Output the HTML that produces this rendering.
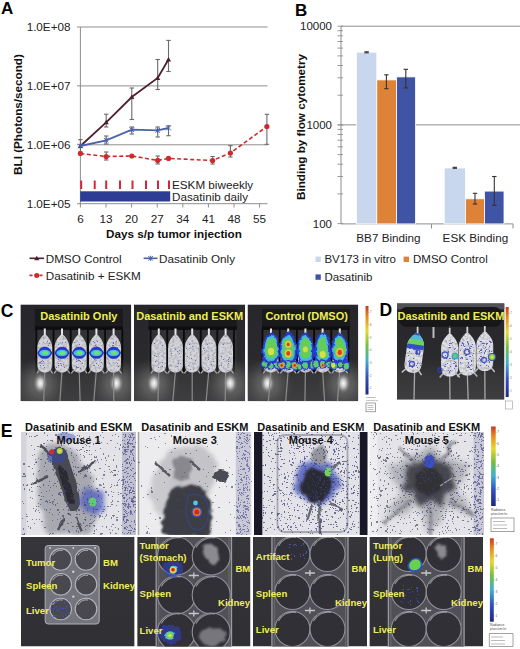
<!DOCTYPE html>
<html><head><meta charset="utf-8"><style>
html,body{margin:0;padding:0;background:#fff;width:520px;height:649px;overflow:hidden}
svg{display:block}
</style></head><body>
<svg width="520" height="649" viewBox="0 0 520 649">
<rect width="520" height="649" fill="#fff"/>
<defs>
<linearGradient id="cbg" x1="0" y1="0" x2="0" y2="1">
 <stop offset="0" stop-color="#26262c"/><stop offset="0.55" stop-color="#2a2a2e"/>
 <stop offset="0.75" stop-color="#363638"/><stop offset="1" stop-color="#3e3e40"/></linearGradient>
<filter id="fur" x="0" y="0" width="1" height="1" color-interpolation-filters="sRGB">
 <feTurbulence type="fractalNoise" baseFrequency="0.4" numOctaves="2" seed="5" result="t"/>
 <feColorMatrix in="t" type="matrix" values="0 0 0 0 0.45  0 0 0 0 0.45  0 0 0 0 0.5  1.3 0 0 0 -0.55" result="dots"/>
 <feComposite in="dots" in2="SourceAlpha" operator="in" result="d2"/>
 <feMerge><feMergeNode in="SourceGraphic"/><feMergeNode in="d2"/></feMerge>
</filter>
<radialGradient id="haze"><stop offset="0" stop-color="#909090" stop-opacity="0.8"/><stop offset="1" stop-color="#606060" stop-opacity="0"/></radialGradient>
<radialGradient id="glare"><stop offset="0" stop-color="#f8f8f8"/><stop offset="0.3" stop-color="#c8c8c8"/><stop offset="0.65" stop-color="#707070" stop-opacity="0.6"/><stop offset="1" stop-color="#3a3a3c" stop-opacity="0"/></radialGradient>
<linearGradient id="cbar" x1="0" y1="0" x2="0" y2="1">
 <stop offset="0" stop-color="#c83820"/><stop offset="0.12" stop-color="#e88a20"/><stop offset="0.28" stop-color="#e8d830"/>
 <stop offset="0.45" stop-color="#70c040"/><stop offset="0.62" stop-color="#40b0d0"/><stop offset="0.8" stop-color="#3050c0"/><stop offset="1" stop-color="#202880"/></linearGradient>
<linearGradient id="ebg" x1="0" y1="0" x2="0" y2="1"><stop offset="0" stop-color="#36363a"/><stop offset="1" stop-color="#303034"/></linearGradient>
<filter id="rough1" x="-30%" y="-30%" width="160%" height="160%"><feTurbulence type="fractalNoise" baseFrequency="0.15" numOctaves="2" seed="8" result="n"/><feDisplacementMap in="SourceGraphic" in2="n" scale="4" xChannelSelector="R" yChannelSelector="G" result="d"/><feGaussianBlur in="d" stdDeviation="0.7"/></filter>
<filter id="rough2" x="-30%" y="-30%" width="160%" height="160%"><feTurbulence type="fractalNoise" baseFrequency="0.12" numOctaves="2" seed="3" result="n"/><feDisplacementMap in="SourceGraphic" in2="n" scale="7" xChannelSelector="R" yChannelSelector="G" result="d"/><feGaussianBlur in="d" stdDeviation="1.2"/></filter>
<filter id="rough3" x="-30%" y="-30%" width="160%" height="160%"><feTurbulence type="fractalNoise" baseFrequency="0.1" numOctaves="2" seed="11" result="n"/><feDisplacementMap in="SourceGraphic" in2="n" scale="10" xChannelSelector="R" yChannelSelector="G" result="d"/><feGaussianBlur in="d" stdDeviation="2"/></filter>
<filter id="rough4" x="-30%" y="-30%" width="160%" height="160%"><feTurbulence type="fractalNoise" baseFrequency="0.08" numOctaves="2" seed="4" result="n"/><feDisplacementMap in="SourceGraphic" in2="n" scale="14" xChannelSelector="R" yChannelSelector="G" result="d"/><feGaussianBlur in="d" stdDeviation="3"/></filter>
<filter id="blur04"><feGaussianBlur stdDeviation="0.35"/></filter>
<filter id="blur05"><feGaussianBlur stdDeviation="0.6"/></filter>
<filter id="blur1"><feGaussianBlur stdDeviation="1"/></filter>
<filter id="blur2"><feGaussianBlur stdDeviation="2"/></filter>
<filter id="blur3"><feGaussianBlur stdDeviation="3"/></filter>
<filter id="blur4"><feGaussianBlur stdDeviation="4"/></filter>
</defs>
<text x="0.8" y="316.5" font-family="Liberation Sans, sans-serif" font-size="17.5" font-weight="bold">C</text>
<clipPath id="cc1"><rect x="20.4" y="304.4" width="110.9" height="96.90000000000003"/></clipPath>
<g clip-path="url(#cc1)">
<rect x="20.4" y="304.4" width="110.9" height="96.90000000000003" fill="url(#cbg)"/>
<rect x="34.9" y="308.9" width="87.9" height="21" fill="#1a1a1c"/>
<rect x="34.9" y="326.4" width="87.9" height="3.5" fill="#0e0e10"/>
<rect x="34.9" y="329.9" width="87.9" height="44" fill="#323236"/>
<rect x="35.4" y="329.4" width="1.8" height="44" fill="#0a0a0a"/>
<rect x="52.6" y="329.4" width="1.8" height="44" fill="#0a0a0a"/>
<rect x="69.8" y="329.4" width="1.8" height="44" fill="#0a0a0a"/>
<rect x="87.0" y="329.4" width="1.8" height="44" fill="#0a0a0a"/>
<rect x="104.2" y="329.4" width="1.8" height="44" fill="#0a0a0a"/>
<rect x="121.4" y="329.4" width="1.8" height="44" fill="#0a0a0a"/>
<ellipse cx="40.4" cy="384.3" rx="26" ry="26" fill="url(#haze)"/>
<ellipse cx="116.30000000000001" cy="384.3" rx="26" ry="26" fill="url(#haze)"/>
<ellipse cx="40.4" cy="383.3" rx="9" ry="13" fill="url(#glare)"/>
<ellipse cx="116.30000000000001" cy="383.3" rx="9" ry="13" fill="url(#glare)"/>
<g>
<path d="M44.8,370.4 L43.7,401.3" stroke="#8c8c8c" stroke-width="1.2"/>
<path d="M44.8,328.4 L44.8,336.4" stroke="#e4e4e4" stroke-width="2"/>
<path d="M62.0,370.4 L59.9,401.3" stroke="#8c8c8c" stroke-width="1.2"/>
<path d="M62.0,328.4 L62.0,336.4" stroke="#e4e4e4" stroke-width="2"/>
<path d="M79.2,370.4 L80.1,401.3" stroke="#8c8c8c" stroke-width="1.2"/>
<path d="M79.2,328.4 L79.2,336.4" stroke="#e4e4e4" stroke-width="2"/>
<path d="M96.4,370.4 L93.8,401.3" stroke="#8c8c8c" stroke-width="1.2"/>
<path d="M96.4,328.4 L96.4,336.4" stroke="#e4e4e4" stroke-width="2"/>
<path d="M113.6,370.4 L113.8,401.3" stroke="#8c8c8c" stroke-width="1.2"/>
<path d="M113.6,328.4 L113.6,336.4" stroke="#e4e4e4" stroke-width="2"/>
</g><g filter="url(#fur)">
<path d="M43.30,334.90 C41.80,336.77 37.40,340.90 37.40,347.27 L37.40,364.15 C37.40,370.52 41.10,372.40 44.80,372.40 C48.50,372.40 52.20,370.52 52.20,364.15 L52.20,347.27 C52.20,340.90 47.80,336.77 46.30,334.90 Z" fill="#d4d4da"/>
<path d="M39.3,370.4 l-2.5,3 M50.3,370.4 l2.5,3" stroke="#b0b0b0" stroke-width="1.3"/>
<path d="M60.50,334.90 C59.00,336.77 54.60,340.90 54.60,347.27 L54.60,364.15 C54.60,370.52 58.30,372.40 62.00,372.40 C65.70,372.40 69.40,370.52 69.40,364.15 L69.40,347.27 C69.40,340.90 65.00,336.77 63.50,334.90 Z" fill="#d4d4da"/>
<path d="M56.5,370.4 l-2.5,3 M67.5,370.4 l2.5,3" stroke="#b0b0b0" stroke-width="1.3"/>
<path d="M77.70,334.90 C76.20,336.77 71.80,340.90 71.80,347.27 L71.80,364.15 C71.80,370.52 75.50,372.40 79.20,372.40 C82.90,372.40 86.60,370.52 86.60,364.15 L86.60,347.27 C86.60,340.90 82.20,336.77 80.70,334.90 Z" fill="#d4d4da"/>
<path d="M73.7,370.4 l-2.5,3 M84.7,370.4 l2.5,3" stroke="#b0b0b0" stroke-width="1.3"/>
<path d="M94.90,334.90 C93.40,336.77 89.00,340.90 89.00,347.27 L89.00,364.15 C89.00,370.52 92.70,372.40 96.40,372.40 C100.10,372.40 103.80,370.52 103.80,364.15 L103.80,347.27 C103.80,340.90 99.40,336.77 97.90,334.90 Z" fill="#d4d4da"/>
<path d="M90.9,370.4 l-2.5,3 M101.9,370.4 l2.5,3" stroke="#b0b0b0" stroke-width="1.3"/>
<path d="M112.10,334.90 C110.60,336.77 106.20,340.90 106.20,347.27 L106.20,364.15 C106.20,370.52 109.90,372.40 113.60,372.40 C117.30,372.40 121.00,370.52 121.00,364.15 L121.00,347.27 C121.00,340.90 116.60,336.77 115.10,334.90 Z" fill="#d4d4da"/>
<path d="M108.1,370.4 l-2.5,3 M119.1,370.4 l2.5,3" stroke="#b0b0b0" stroke-width="1.3"/>
</g>
<path d="M49,343h1v1h-1zM44,367h1v1h-1zM40,362h1v1h-1zM46,352h1v1h-1zM42,360h1v1h-1zM47,341h1v1h-1zM46,354h1v1h-1zM43,361h1v1h-1zM43,365h1v1h-1zM45,349h1v1h-1zM40,365h1v1h-1zM48,354h1v1h-1zM48,345h1v1h-1zM41,361h1v1h-1zM47,341h1v1h-1zM39,362h1v1h-1z" fill="#5050b0" opacity="0.75"/>
<path d="M37.199999999999996,352.9 Q40.8,345.9 44.8,346.9 Q48.8,345.9 52.4,352.9 Q48.8,359.9 44.8,358.4 Q40.8,359.9 37.199999999999996,352.9 Z" fill="#2838c0"/>
<ellipse cx="44.8" cy="352.9" rx="5.6" ry="3.2" fill="#40c0e8"/>
<ellipse cx="45.3" cy="352.9" rx="3" ry="1.9" fill="#70e070"/>
<path d="M58,344h1v1h-1zM65,347h1v1h-1zM58,363h1v1h-1zM62,342h1v1h-1zM64,351h1v1h-1zM64,367h1v1h-1zM58,359h1v1h-1zM56,367h1v1h-1zM65,342h1v1h-1zM63,349h1v1h-1zM57,351h1v1h-1zM63,364h1v1h-1zM58,365h1v1h-1zM60,363h1v1h-1zM59,353h1v1h-1zM61,365h1v1h-1z" fill="#5050b0" opacity="0.75"/>
<path d="M54.4,352.9 Q58,345.9 62,346.9 Q66,345.9 69.6,352.9 Q66,359.9 62,358.4 Q58,359.9 54.4,352.9 Z" fill="#2838c0"/>
<ellipse cx="62.0" cy="352.9" rx="5.6" ry="3.2" fill="#40c0e8"/>
<ellipse cx="62.5" cy="352.9" rx="3" ry="1.9" fill="#70e070"/>
<path d="M76,359h1v1h-1zM80,368h1v1h-1zM75,351h1v1h-1zM79,360h1v1h-1zM82,363h1v1h-1zM79,344h1v1h-1zM76,361h1v1h-1zM76,366h1v1h-1zM77,367h1v1h-1zM76,367h1v1h-1zM78,360h1v1h-1zM78,367h1v1h-1zM73,369h1v1h-1zM80,361h1v1h-1zM78,360h1v1h-1zM74,342h1v1h-1z" fill="#5050b0" opacity="0.75"/>
<path d="M71.60000000000001,352.9 Q75.2,345.9 79.2,346.9 Q83.2,345.9 86.8,352.9 Q83.2,359.9 79.2,358.4 Q75.2,359.9 71.60000000000001,352.9 Z" fill="#2838c0"/>
<ellipse cx="79.2" cy="352.9" rx="5.6" ry="3.2" fill="#40c0e8"/>
<ellipse cx="79.7" cy="352.9" rx="3" ry="1.9" fill="#70e070"/>
<path d="M93,365h1v1h-1zM101,353h1v1h-1zM96,363h1v1h-1zM93,341h1v1h-1zM101,362h1v1h-1zM98,365h1v1h-1zM91,356h1v1h-1zM97,355h1v1h-1zM97,341h1v1h-1zM94,342h1v1h-1zM93,350h1v1h-1zM94,359h1v1h-1zM94,365h1v1h-1zM96,346h1v1h-1zM95,345h1v1h-1zM100,366h1v1h-1z" fill="#5050b0" opacity="0.75"/>
<path d="M88.80000000000001,352.9 Q92.4,345.9 96.4,346.9 Q100.4,345.9 104.0,352.9 Q100.4,359.9 96.4,358.4 Q92.4,359.9 88.80000000000001,352.9 Z" fill="#2838c0"/>
<ellipse cx="96.4" cy="352.9" rx="5.6" ry="3.2" fill="#40c0e8"/>
<ellipse cx="96.9" cy="352.9" rx="3" ry="1.9" fill="#70e070"/>
<path d="M112,345h1v1h-1zM113,347h1v1h-1zM113,358h1v1h-1zM113,345h1v1h-1zM109,363h1v1h-1zM117,363h1v1h-1zM113,356h1v1h-1zM117,353h1v1h-1zM114,354h1v1h-1zM113,343h1v1h-1zM116,341h1v1h-1zM118,366h1v1h-1zM117,347h1v1h-1zM113,342h1v1h-1zM112,349h1v1h-1zM111,355h1v1h-1z" fill="#5050b0" opacity="0.75"/>
<path d="M106.0,352.9 Q109.6,345.9 113.6,346.9 Q117.6,345.9 121.19999999999999,352.9 Q117.6,359.9 113.6,358.4 Q109.6,359.9 106.0,352.9 Z" fill="#2838c0"/>
<ellipse cx="113.6" cy="352.9" rx="5.6" ry="3.2" fill="#40c0e8"/>
<ellipse cx="114.1" cy="352.9" rx="3" ry="1.9" fill="#70e070"/>
<text x="40.3" y="320.4" font-family="Liberation Sans, sans-serif" font-size="11" font-weight="bold" fill="#eeee58" text-anchor="start">Dasatinib Only</text>
</g>
<clipPath id="cc2"><rect x="134" y="304.4" width="111.19999999999999" height="96.90000000000003"/></clipPath>
<g clip-path="url(#cc2)">
<rect x="134" y="304.4" width="111.19999999999999" height="96.90000000000003" fill="url(#cbg)"/>
<rect x="148.5" y="308.9" width="88.19999999999999" height="21" fill="#1a1a1c"/>
<rect x="148.5" y="326.4" width="88.19999999999999" height="3.5" fill="#0e0e10"/>
<rect x="148.5" y="329.9" width="88.19999999999999" height="44" fill="#323236"/>
<rect x="149.7" y="329.4" width="1.8" height="44" fill="#0a0a0a"/>
<rect x="166.3" y="329.4" width="1.8" height="44" fill="#0a0a0a"/>
<rect x="183.0" y="329.4" width="1.8" height="44" fill="#0a0a0a"/>
<rect x="199.8" y="329.4" width="1.8" height="44" fill="#0a0a0a"/>
<rect x="216.4" y="329.4" width="1.8" height="44" fill="#0a0a0a"/>
<rect x="233.1" y="329.4" width="1.8" height="44" fill="#0a0a0a"/>
<ellipse cx="154" cy="384.3" rx="26" ry="26" fill="url(#haze)"/>
<ellipse cx="230.2" cy="384.3" rx="26" ry="26" fill="url(#haze)"/>
<ellipse cx="154" cy="383.3" rx="9" ry="13" fill="url(#glare)"/>
<ellipse cx="230.2" cy="383.3" rx="9" ry="13" fill="url(#glare)"/>
<g>
<path d="M158.8,370.4 L158.0,401.3" stroke="#8c8c8c" stroke-width="1.2"/>
<path d="M158.8,328.4 L158.8,336.4" stroke="#e4e4e4" stroke-width="2"/>
<path d="M175.5,370.4 L172.8,401.3" stroke="#8c8c8c" stroke-width="1.2"/>
<path d="M175.5,328.4 L175.5,336.4" stroke="#e4e4e4" stroke-width="2"/>
<path d="M192.2,370.4 L192.2,401.3" stroke="#8c8c8c" stroke-width="1.2"/>
<path d="M192.2,328.4 L192.2,336.4" stroke="#e4e4e4" stroke-width="2"/>
<path d="M208.9,370.4 L206.1,401.3" stroke="#8c8c8c" stroke-width="1.2"/>
<path d="M208.9,328.4 L208.9,336.4" stroke="#e4e4e4" stroke-width="2"/>
<path d="M225.6,370.4 L225.2,401.3" stroke="#8c8c8c" stroke-width="1.2"/>
<path d="M225.6,328.4 L225.6,336.4" stroke="#e4e4e4" stroke-width="2"/>
</g><g filter="url(#fur)">
<path d="M157.30,334.90 C155.80,336.77 151.40,340.90 151.40,347.27 L151.40,364.15 C151.40,370.52 155.10,372.40 158.80,372.40 C162.50,372.40 166.20,370.52 166.20,364.15 L166.20,347.27 C166.20,340.90 161.80,336.77 160.30,334.90 Z" fill="#d4d4da"/>
<path d="M153.3,370.4 l-2.5,3 M164.3,370.4 l2.5,3" stroke="#b0b0b0" stroke-width="1.3"/>
<path d="M174.00,334.90 C172.50,336.77 168.10,340.90 168.10,347.27 L168.10,364.15 C168.10,370.52 171.80,372.40 175.50,372.40 C179.20,372.40 182.90,370.52 182.90,364.15 L182.90,347.27 C182.90,340.90 178.50,336.77 177.00,334.90 Z" fill="#d4d4da"/>
<path d="M170.0,370.4 l-2.5,3 M181.0,370.4 l2.5,3" stroke="#b0b0b0" stroke-width="1.3"/>
<path d="M190.70,334.90 C189.20,336.77 184.80,340.90 184.80,347.27 L184.80,364.15 C184.80,370.52 188.50,372.40 192.20,372.40 C195.90,372.40 199.60,370.52 199.60,364.15 L199.60,347.27 C199.60,340.90 195.20,336.77 193.70,334.90 Z" fill="#d4d4da"/>
<path d="M186.7,370.4 l-2.5,3 M197.7,370.4 l2.5,3" stroke="#b0b0b0" stroke-width="1.3"/>
<path d="M207.40,334.90 C205.90,336.77 201.50,340.90 201.50,347.27 L201.50,364.15 C201.50,370.52 205.20,372.40 208.90,372.40 C212.60,372.40 216.30,370.52 216.30,364.15 L216.30,347.27 C216.30,340.90 211.90,336.77 210.40,334.90 Z" fill="#d4d4da"/>
<path d="M203.4,370.4 l-2.5,3 M214.4,370.4 l2.5,3" stroke="#b0b0b0" stroke-width="1.3"/>
<path d="M224.10,334.90 C222.60,336.77 218.20,340.90 218.20,347.27 L218.20,364.15 C218.20,370.52 221.90,372.40 225.60,372.40 C229.30,372.40 233.00,370.52 233.00,364.15 L233.00,347.27 C233.00,340.90 228.60,336.77 227.10,334.90 Z" fill="#d4d4da"/>
<path d="M220.1,370.4 l-2.5,3 M231.1,370.4 l2.5,3" stroke="#b0b0b0" stroke-width="1.3"/>
</g>
<path d="M154,355h1v1h-1zM162,366h1v1h-1zM158,367h1v1h-1zM155,361h1v1h-1zM156,356h1v1h-1zM154,343h1v1h-1zM162,345h1v1h-1zM162,362h1v1h-1z" fill="#5050b0" opacity="0.75"/>
<path d="M179,350h1v1h-1zM177,366h1v1h-1zM171,353h1v1h-1zM177,351h1v1h-1zM179,353h1v1h-1zM178,363h1v1h-1zM175,349h1v1h-1zM180,363h1v1h-1z" fill="#5050b0" opacity="0.75"/>
<path d="M195,360h1v1h-1zM189,344h1v1h-1zM188,365h1v1h-1zM191,358h1v1h-1zM190,369h1v1h-1zM192,346h1v1h-1zM186,348h1v1h-1zM187,356h1v1h-1z" fill="#5050b0" opacity="0.75"/>
<path d="M208,357h1v1h-1zM207,344h1v1h-1zM204,350h1v1h-1zM211,364h1v1h-1zM203,348h1v1h-1zM213,361h1v1h-1zM208,359h1v1h-1zM208,369h1v1h-1z" fill="#5050b0" opacity="0.75"/>
<path d="M221,356h1v1h-1zM228,363h1v1h-1zM228,361h1v1h-1zM228,359h1v1h-1zM223,344h1v1h-1zM221,365h1v1h-1zM223,359h1v1h-1zM229,357h1v1h-1z" fill="#5050b0" opacity="0.75"/>
<text x="136.2" y="320.4" font-family="Liberation Sans, sans-serif" font-size="11" font-weight="bold" fill="#eeee58" text-anchor="start">Dasatinib and ESKM</text>
</g>
<clipPath id="cc3"><rect x="247.5" y="304.4" width="110.80000000000001" height="96.90000000000003"/></clipPath>
<g clip-path="url(#cc3)">
<rect x="247.5" y="304.4" width="110.80000000000001" height="96.90000000000003" fill="url(#cbg)"/>
<rect x="262.0" y="308.9" width="87.80000000000001" height="21" fill="#1a1a1c"/>
<rect x="262.0" y="326.4" width="87.80000000000001" height="3.5" fill="#0e0e10"/>
<rect x="262.0" y="329.9" width="87.80000000000001" height="44" fill="#323236"/>
<rect x="261.6" y="329.4" width="1.8" height="44" fill="#0a0a0a"/>
<rect x="278.8" y="329.4" width="1.8" height="44" fill="#0a0a0a"/>
<rect x="296.0" y="329.4" width="1.8" height="44" fill="#0a0a0a"/>
<rect x="313.2" y="329.4" width="1.8" height="44" fill="#0a0a0a"/>
<rect x="330.4" y="329.4" width="1.8" height="44" fill="#0a0a0a"/>
<rect x="347.6" y="329.4" width="1.8" height="44" fill="#0a0a0a"/>
<ellipse cx="267.5" cy="384.3" rx="26" ry="26" fill="url(#haze)"/>
<ellipse cx="343.3" cy="384.3" rx="26" ry="26" fill="url(#haze)"/>
<ellipse cx="267.5" cy="383.3" rx="9" ry="13" fill="url(#glare)"/>
<ellipse cx="343.3" cy="383.3" rx="9" ry="13" fill="url(#glare)"/>
<g>
<path d="M271.0,370.4 L268.4,401.3" stroke="#8c8c8c" stroke-width="1.2"/>
<path d="M271.0,328.4 L271.0,336.4" stroke="#e4e4e4" stroke-width="2"/>
<path d="M288.2,370.4 L285.7,401.3" stroke="#8c8c8c" stroke-width="1.2"/>
<path d="M288.2,328.4 L288.2,336.4" stroke="#e4e4e4" stroke-width="2"/>
<path d="M305.4,370.4 L304.9,401.3" stroke="#8c8c8c" stroke-width="1.2"/>
<path d="M305.4,328.4 L305.4,336.4" stroke="#e4e4e4" stroke-width="2"/>
<path d="M322.6,370.4 L324.6,401.3" stroke="#8c8c8c" stroke-width="1.2"/>
<path d="M322.6,328.4 L322.6,336.4" stroke="#e4e4e4" stroke-width="2"/>
<path d="M339.8,370.4 L337.5,401.3" stroke="#8c8c8c" stroke-width="1.2"/>
<path d="M339.8,328.4 L339.8,336.4" stroke="#e4e4e4" stroke-width="2"/>
</g><g filter="url(#fur)">
<path d="M269.50,334.90 C268.00,336.77 263.60,340.90 263.60,347.27 L263.60,364.15 C263.60,370.52 267.30,372.40 271.00,372.40 C274.70,372.40 278.40,370.52 278.40,364.15 L278.40,347.27 C278.40,340.90 274.00,336.77 272.50,334.90 Z" fill="#d4d4da"/>
<path d="M265.5,370.4 l-2.5,3 M276.5,370.4 l2.5,3" stroke="#b0b0b0" stroke-width="1.3"/>
<path d="M286.70,334.90 C285.20,336.77 280.80,340.90 280.80,347.27 L280.80,364.15 C280.80,370.52 284.50,372.40 288.20,372.40 C291.90,372.40 295.60,370.52 295.60,364.15 L295.60,347.27 C295.60,340.90 291.20,336.77 289.70,334.90 Z" fill="#d4d4da"/>
<path d="M282.7,370.4 l-2.5,3 M293.7,370.4 l2.5,3" stroke="#b0b0b0" stroke-width="1.3"/>
<path d="M303.90,334.90 C302.40,336.77 298.00,340.90 298.00,347.27 L298.00,364.15 C298.00,370.52 301.70,372.40 305.40,372.40 C309.10,372.40 312.80,370.52 312.80,364.15 L312.80,347.27 C312.80,340.90 308.40,336.77 306.90,334.90 Z" fill="#d4d4da"/>
<path d="M299.9,370.4 l-2.5,3 M310.9,370.4 l2.5,3" stroke="#b0b0b0" stroke-width="1.3"/>
<path d="M321.10,334.90 C319.60,336.77 315.20,340.90 315.20,347.27 L315.20,364.15 C315.20,370.52 318.90,372.40 322.60,372.40 C326.30,372.40 330.00,370.52 330.00,364.15 L330.00,347.27 C330.00,340.90 325.60,336.77 324.10,334.90 Z" fill="#d4d4da"/>
<path d="M317.1,370.4 l-2.5,3 M328.1,370.4 l2.5,3" stroke="#b0b0b0" stroke-width="1.3"/>
<path d="M338.30,334.90 C336.80,336.77 332.40,340.90 332.40,347.27 L332.40,364.15 C332.40,370.52 336.10,372.40 339.80,372.40 C343.50,372.40 347.20,370.52 347.20,364.15 L347.20,347.27 C347.20,340.90 342.80,336.77 341.30,334.90 Z" fill="#d4d4da"/>
<path d="M334.3,370.4 l-2.5,3 M345.3,370.4 l2.5,3" stroke="#b0b0b0" stroke-width="1.3"/>
</g>
<g filter="url(#rough1)">
<path d="M271.00,332.40 C267.06,332.40 264.88,337.98 263.30,343.25 C262.07,347.90 262.07,354.10 263.12,358.44 C264.44,363.40 268.38,363.40 271.00,363.40 C273.62,363.40 277.56,363.40 278.88,358.44 C279.93,354.10 279.93,347.90 278.70,343.25 C277.12,337.98 274.94,332.40 271.00,332.40 Z" fill="#2a3ac8"/>
<path d="M271.00,334.90 C267.96,334.90 266.27,339.58 265.06,344.00 C264.12,347.90 264.12,353.10 264.93,356.74 C265.94,360.90 268.98,360.90 271.00,360.90 C273.02,360.90 276.06,360.90 277.07,356.74 C277.88,353.10 277.88,347.90 276.94,344.00 C275.73,339.58 274.04,334.90 271.00,334.90 Z" fill="#40b8e0"/>
<path d="M271.00,337.40 C268.64,337.40 267.32,341.18 266.38,344.75 C265.64,347.90 265.64,352.10 266.27,355.04 C267.06,358.40 269.43,358.40 271.00,358.40 C272.57,358.40 274.94,358.40 275.73,355.04 C276.36,352.10 276.36,347.90 275.62,344.75 C274.68,341.18 273.36,337.40 271.00,337.40 Z" fill="#66cc58"/>
<ellipse cx="264.5" cy="364.4" rx="3.9" ry="4.6" fill="#2a3ac8"/>
<ellipse cx="264.5" cy="364.4" rx="2.6" ry="3.2" fill="#5cc870"/>
<ellipse cx="271.0" cy="366.0" rx="3.9" ry="4.6" fill="#2a3ac8"/>
<ellipse cx="271.0" cy="366.0" rx="2.6" ry="3.2" fill="#5cc870"/>
<ellipse cx="277.5" cy="365.8" rx="3.9" ry="4.6" fill="#2a3ac8"/>
<ellipse cx="277.5" cy="365.8" rx="2.6" ry="3.2" fill="#5cc870"/>
<path d="M288.20,332.40 C284.26,332.40 282.07,337.98 280.50,343.25 C279.27,347.90 279.27,354.10 280.32,358.44 C281.64,363.40 285.57,363.40 288.20,363.40 C290.82,363.40 294.76,363.40 296.07,358.44 C297.12,354.10 297.12,347.90 295.90,343.25 C294.32,337.98 292.14,332.40 288.20,332.40 Z" fill="#2a3ac8"/>
<path d="M288.20,334.90 C285.16,334.90 283.47,339.58 282.26,344.00 C281.31,347.90 281.31,353.10 282.12,356.74 C283.14,360.90 286.18,360.90 288.20,360.90 C290.22,360.90 293.26,360.90 294.27,356.74 C295.08,353.10 295.08,347.90 294.14,344.00 C292.93,339.58 291.24,334.90 288.20,334.90 Z" fill="#40b8e0"/>
<path d="M288.20,337.40 C285.84,337.40 284.52,341.18 283.58,344.75 C282.84,347.90 282.84,352.10 283.47,355.04 C284.26,358.40 286.62,358.40 288.20,358.40 C289.77,358.40 292.14,358.40 292.93,355.04 C293.56,352.10 293.56,347.90 292.82,344.75 C291.88,341.18 290.56,337.40 288.20,337.40 Z" fill="#66cc58"/>
<ellipse cx="281.7" cy="365.3" rx="3.9" ry="4.6" fill="#2a3ac8"/>
<ellipse cx="281.7" cy="365.3" rx="2.6" ry="3.2" fill="#5cc870"/>
<ellipse cx="288.2" cy="364.5" rx="3.9" ry="4.6" fill="#2a3ac8"/>
<ellipse cx="288.2" cy="364.5" rx="2.6" ry="3.2" fill="#5cc870"/>
<ellipse cx="294.7" cy="366.3" rx="3.9" ry="4.6" fill="#2a3ac8"/>
<ellipse cx="294.7" cy="366.3" rx="2.6" ry="3.2" fill="#5cc870"/>
<path d="M305.40,332.40 C301.46,332.40 299.27,337.98 297.70,343.25 C296.47,347.90 296.47,354.10 297.52,358.44 C298.84,363.40 302.77,363.40 305.40,363.40 C308.02,363.40 311.96,363.40 313.27,358.44 C314.32,354.10 314.32,347.90 313.10,343.25 C311.52,337.98 309.34,332.40 305.40,332.40 Z" fill="#2a3ac8"/>
<path d="M305.40,334.90 C302.36,334.90 300.67,339.58 299.46,344.00 C298.51,347.90 298.51,353.10 299.32,356.74 C300.34,360.90 303.38,360.90 305.40,360.90 C307.42,360.90 310.46,360.90 311.47,356.74 C312.28,353.10 312.28,347.90 311.34,344.00 C310.12,339.58 308.44,334.90 305.40,334.90 Z" fill="#40b8e0"/>
<path d="M305.40,337.40 C303.04,337.40 301.72,341.18 300.78,344.75 C300.04,347.90 300.04,352.10 300.67,355.04 C301.46,358.40 303.82,358.40 305.40,358.40 C306.97,358.40 309.34,358.40 310.12,355.04 C310.75,352.10 310.75,347.90 310.02,344.75 C309.07,341.18 307.76,337.40 305.40,337.40 Z" fill="#66cc58"/>
<ellipse cx="298.9" cy="366.3" rx="3.9" ry="4.6" fill="#2a3ac8"/>
<ellipse cx="298.9" cy="366.3" rx="2.6" ry="3.2" fill="#5cc870"/>
<ellipse cx="305.4" cy="365.4" rx="3.9" ry="4.6" fill="#2a3ac8"/>
<ellipse cx="305.4" cy="365.4" rx="2.6" ry="3.2" fill="#5cc870"/>
<ellipse cx="311.9" cy="365.4" rx="3.9" ry="4.6" fill="#2a3ac8"/>
<ellipse cx="311.9" cy="365.4" rx="2.6" ry="3.2" fill="#5cc870"/>
<path d="M322.60,332.40 C318.66,332.40 316.48,337.98 314.90,343.25 C313.68,347.90 313.68,354.10 314.73,358.44 C316.04,363.40 319.98,363.40 322.60,363.40 C325.23,363.40 329.16,363.40 330.48,358.44 C331.53,354.10 331.53,347.90 330.30,343.25 C328.73,337.98 326.54,332.40 322.60,332.40 Z" fill="#2a3ac8"/>
<path d="M322.60,334.90 C319.56,334.90 317.88,339.58 316.66,344.00 C315.72,347.90 315.72,353.10 316.53,356.74 C317.54,360.90 320.58,360.90 322.60,360.90 C324.62,360.90 327.66,360.90 328.68,356.74 C329.49,353.10 329.49,347.90 328.54,344.00 C327.33,339.58 325.64,334.90 322.60,334.90 Z" fill="#40b8e0"/>
<path d="M322.60,337.40 C320.24,337.40 318.93,341.18 317.98,344.75 C317.25,347.90 317.25,352.10 317.88,355.04 C318.66,358.40 321.03,358.40 322.60,358.40 C324.18,358.40 326.54,358.40 327.33,355.04 C327.96,352.10 327.96,347.90 327.22,344.75 C326.28,341.18 324.96,337.40 322.60,337.40 Z" fill="#66cc58"/>
<ellipse cx="316.1" cy="364.6" rx="3.9" ry="4.6" fill="#2a3ac8"/>
<ellipse cx="316.1" cy="364.6" rx="2.6" ry="3.2" fill="#5cc870"/>
<ellipse cx="322.6" cy="363.9" rx="3.9" ry="4.6" fill="#2a3ac8"/>
<ellipse cx="322.6" cy="363.9" rx="2.6" ry="3.2" fill="#5cc870"/>
<ellipse cx="329.1" cy="365.0" rx="3.9" ry="4.6" fill="#2a3ac8"/>
<ellipse cx="329.1" cy="365.0" rx="2.6" ry="3.2" fill="#5cc870"/>
<path d="M339.80,332.40 C335.86,332.40 333.68,337.98 332.10,343.25 C330.88,347.90 330.88,354.10 331.93,358.44 C333.24,363.40 337.18,363.40 339.80,363.40 C342.43,363.40 346.36,363.40 347.68,358.44 C348.73,354.10 348.73,347.90 347.50,343.25 C345.93,337.98 343.74,332.40 339.80,332.40 Z" fill="#2a3ac8"/>
<path d="M339.80,334.90 C336.76,334.90 335.07,339.58 333.86,344.00 C332.92,347.90 332.92,353.10 333.73,356.74 C334.74,360.90 337.78,360.90 339.80,360.90 C341.82,360.90 344.86,360.90 345.88,356.74 C346.69,353.10 346.69,347.90 345.74,344.00 C344.53,339.58 342.84,334.90 339.80,334.90 Z" fill="#40b8e0"/>
<path d="M339.80,337.40 C337.44,337.40 336.12,341.18 335.18,344.75 C334.44,347.90 334.44,352.10 335.07,355.04 C335.86,358.40 338.23,358.40 339.80,358.40 C341.38,358.40 343.74,358.40 344.53,355.04 C345.16,352.10 345.16,347.90 344.42,344.75 C343.48,341.18 342.16,337.40 339.80,337.40 Z" fill="#66cc58"/>
<ellipse cx="333.3" cy="365.7" rx="3.9" ry="4.6" fill="#2a3ac8"/>
<ellipse cx="333.3" cy="365.7" rx="2.6" ry="3.2" fill="#5cc870"/>
<ellipse cx="339.8" cy="364.1" rx="3.9" ry="4.6" fill="#2a3ac8"/>
<ellipse cx="339.8" cy="364.1" rx="2.6" ry="3.2" fill="#5cc870"/>
<ellipse cx="346.3" cy="366.3" rx="3.9" ry="4.6" fill="#2a3ac8"/>
<ellipse cx="346.3" cy="366.3" rx="2.6" ry="3.2" fill="#5cc870"/>
</g>
<g filter="url(#blur05)">
<ellipse cx="271.0" cy="351.4" rx="3.2" ry="3.68" fill="#d8e048"/>
<ellipse cx="288.2" cy="344.4" rx="3" ry="3.45" fill="#e0d040"/>
<ellipse cx="288.2" cy="344.4" rx="1.6" ry="1.84" fill="#e04020"/>
<ellipse cx="288.2" cy="353.4" rx="3.5" ry="4.02" fill="#e0d040"/>
<ellipse cx="288.2" cy="353.4" rx="2" ry="2.30" fill="#e04020"/>
<ellipse cx="281.7" cy="365.4" rx="2.4" ry="2.76" fill="#e0a030"/>
<ellipse cx="281.7" cy="365.4" rx="1.2" ry="1.38" fill="#d03020"/>
<ellipse cx="294.7" cy="365.4" rx="2.4" ry="2.76" fill="#e0a030"/>
<ellipse cx="294.7" cy="365.4" rx="1.2" ry="1.38" fill="#d03020"/>
<ellipse cx="305.4" cy="349.4" rx="2.5" ry="2.88" fill="#c8e048"/>
<ellipse cx="322.6" cy="354.4" rx="3" ry="3.45" fill="#d8e048"/>
<ellipse cx="322.6" cy="365.4" rx="2" ry="2.30" fill="#e0a030"/>
<ellipse cx="322.6" cy="365.4" rx="1" ry="1.15" fill="#d03020"/>
<ellipse cx="339.8" cy="352.4" rx="4" ry="4.60" fill="#e0c040"/>
<ellipse cx="339.8" cy="352.4" rx="2.2" ry="2.53" fill="#e04020"/>
<ellipse cx="333.3" cy="365.4" rx="2" ry="2.30" fill="#d8e048"/>
</g>
<text x="265.4" y="320.4" font-family="Liberation Sans, sans-serif" font-size="11" font-weight="bold" fill="#eeee58" text-anchor="start">Control (DMSO)</text>
</g>
<rect x="365.5" y="306" width="3" height="88.5" fill="url(#cbar)"/>
<text x="370.1" y="313.3" font-family="Liberation Sans, sans-serif" font-size="2.6" fill="#555">7</text>
<line x1="368.4" y1="312.3" x2="369.6" y2="312.3" stroke="#777" stroke-width="0.4"/>
<text x="370.1" y="326.0" font-family="Liberation Sans, sans-serif" font-size="2.6" fill="#555">6</text>
<line x1="368.4" y1="325.0" x2="369.6" y2="325.0" stroke="#777" stroke-width="0.4"/>
<text x="370.1" y="338.6" font-family="Liberation Sans, sans-serif" font-size="2.6" fill="#555">5</text>
<line x1="368.4" y1="337.6" x2="369.6" y2="337.6" stroke="#777" stroke-width="0.4"/>
<text x="370.1" y="351.2" font-family="Liberation Sans, sans-serif" font-size="2.6" fill="#555">4</text>
<line x1="368.4" y1="350.2" x2="369.6" y2="350.2" stroke="#777" stroke-width="0.4"/>
<text x="370.1" y="363.9" font-family="Liberation Sans, sans-serif" font-size="2.6" fill="#555">3</text>
<line x1="368.4" y1="362.9" x2="369.6" y2="362.9" stroke="#777" stroke-width="0.4"/>
<text x="370.1" y="376.5" font-family="Liberation Sans, sans-serif" font-size="2.6" fill="#555">2</text>
<line x1="368.4" y1="375.5" x2="369.6" y2="375.5" stroke="#777" stroke-width="0.4"/>
<text x="370.1" y="389.2" font-family="Liberation Sans, sans-serif" font-size="2.6" fill="#555">1</text>
<line x1="368.4" y1="388.2" x2="369.6" y2="388.2" stroke="#777" stroke-width="0.4"/>
<text x="366" y="398" font-family="Liberation Sans, sans-serif" font-size="2.4" fill="#555">Radiance</text><text x="366" y="401" font-family="Liberation Sans, sans-serif" font-size="2.2" fill="#555">p/sec/cm²/sr</text>
<rect x="366" y="403" width="9.6" height="8.8" fill="#fff" stroke="#666" stroke-width="0.6"/><path d="M367.5,405.5h6M367.5,407.5h6M367.5,409.5h6" stroke="#999" stroke-width="0.6"/>
<text x="379.6" y="316.3" font-family="Liberation Sans, sans-serif" font-size="17.5" font-weight="bold">D</text>
<clipPath id="dd"><rect x="397" y="303.3" width="107.5" height="96.5"/></clipPath><g clip-path="url(#dd)">
<rect x="397" y="303.3" width="107.5" height="96.5" fill="url(#cbg)"/>
<rect x="397" y="303.3" width="107.5" height="6" fill="#505056"/>
<rect x="399" y="307" width="103" height="20" rx="8" fill="#18181a"/>
<path d="M433.5,327 L433.5,338" stroke="#bbb" stroke-width="2"/>
<path d="M414.6,371 L414.0,400" stroke="#a8a8a8" stroke-width="1.3"/>
<path d="M417.6,335 L417.6,327" stroke="#d0d0d0" stroke-width="1.8"/><path d="M417.6,326 L417.6,327" stroke="#707070" stroke-width="1"/>
<path d="M449.7,374.5 L450.0,400" stroke="#a8a8a8" stroke-width="1.3"/>
<path d="M449.7,336 L449.7,328" stroke="#d0d0d0" stroke-width="1.8"/><path d="M449.7,326 L449.7,328" stroke="#707070" stroke-width="1"/>
<path d="M467.3,373.5 L468.2,400" stroke="#a8a8a8" stroke-width="1.3"/>
<path d="M467.3,335 L467.3,327" stroke="#d0d0d0" stroke-width="1.8"/><path d="M467.3,326 L467.3,327" stroke="#707070" stroke-width="1"/>
<path d="M484.8,369 L485.0,400" stroke="#a8a8a8" stroke-width="1.3"/>
<path d="M484.8,334 L484.8,326" stroke="#d0d0d0" stroke-width="1.8"/><path d="M484.8,326 L484.8,326" stroke="#707070" stroke-width="1"/>
<g filter="url(#fur)">
<path transform="rotate(8 414.6 353.0)" d="M413.10,333.00 C411.60,335.00 406.10,339.40 406.10,346.20 L406.10,364.20 C406.10,371.00 410.35,373.00 414.60,373.00 C418.85,373.00 423.10,371.00 423.10,364.20 L423.10,346.20 C423.10,339.40 417.60,335.00 416.10,333.00 Z" fill="#e0e0e6"/>
<path transform="rotate(8 414.6 353.0)" d="M408.1,370 l-3.5,4 M421.1,370 l3.5,4" stroke="#c0c0c0" stroke-width="1.5"/>
<path d="M448.20,334.00 C446.70,336.12 441.10,340.80 441.10,348.02 L441.10,367.15 C441.10,374.38 445.40,376.50 449.70,376.50 C454.00,376.50 458.30,374.38 458.30,367.15 L458.30,348.02 C458.30,340.80 452.70,336.12 451.20,334.00 Z" fill="#e0e0e6"/>
<path d="M443.2,373.5 l-3.5,4 M456.2,373.5 l3.5,4" stroke="#c0c0c0" stroke-width="1.5"/>
<path d="M465.80,333.00 C464.30,335.12 458.70,339.80 458.70,347.02 L458.70,366.15 C458.70,373.38 463.00,375.50 467.30,375.50 C471.60,375.50 475.90,373.38 475.90,366.15 L475.90,347.02 C475.90,339.80 470.30,335.12 468.80,333.00 Z" fill="#e0e0e6"/>
<path d="M460.8,372.5 l-3.5,4 M473.8,372.5 l3.5,4" stroke="#c0c0c0" stroke-width="1.5"/>
<path d="M483.30,332.00 C481.80,333.95 476.40,338.24 476.40,344.87 L476.40,362.42 C476.40,369.05 480.60,371.00 484.80,371.00 C489.00,371.00 493.20,369.05 493.20,362.42 L493.20,344.87 C493.20,338.24 487.80,333.95 486.30,332.00 Z" fill="#e0e0e6"/>
<path d="M478.3,368 l-3.5,4 M491.3,368 l3.5,4" stroke="#c0c0c0" stroke-width="1.5"/>
</g>
<path d="M415,349h2v1h-2zM417,363h1v1h-1zM415,348h1v1h-1zM409,351h1v1h-1zM409,366h1v1h-1zM414,344h1v2h-1zM416,351h2v2h-2zM419,341h1v1h-1zM419,354h1v1h-1zM420,349h2v1h-2zM414,349h1v1h-1zM416,353h1v2h-1zM415,353h1v1h-1zM419,345h1v1h-1zM412,366h1v1h-1zM408,341h1v2h-1zM420,365h1v1h-1zM418,344h1v1h-1zM413,348h1v2h-1zM409,348h1v1h-1zM413,358h1v1h-1zM409,345h1v1h-1zM409,360h1v1h-1zM412,366h1v2h-1zM417,367h1v1h-1zM410,347h1v2h-1zM409,346h1v1h-1zM408,361h1v1h-1zM410,343h1v2h-1zM408,355h1v1h-1zM415,347h1v1h-1zM416,365h1v1h-1zM412,345h1v1h-1zM409,344h1v2h-1z" fill="#3a40b8" opacity="0.75" filter="url(#blur04)"/>
<path d="M446,358h1v1h-1zM454,349h1v1h-1zM456,355h1v2h-1zM452,358h1v1h-1zM452,354h1v1h-1zM452,342h1v1h-1zM450,343h2v1h-2zM448,351h1v2h-1zM445,366h1v1h-1zM449,371h1v2h-1zM454,361h1v1h-1zM443,356h1v1h-1zM454,361h1v1h-1zM444,366h2v1h-2zM450,358h1v1h-1zM454,368h1v1h-1zM449,345h1v1h-1zM448,370h1v1h-1zM455,357h1v1h-1zM454,359h1v1h-1zM447,363h1v1h-1zM450,370h1v1h-1zM449,347h2v1h-2zM455,348h1v1h-1zM455,365h2v2h-2zM445,355h1v1h-1zM450,366h1v1h-1zM453,363h2v1h-2zM449,343h2v1h-2zM445,364h1v1h-1zM455,362h1v1h-1zM449,358h1v1h-1z" fill="#3a40b8" opacity="0.75" filter="url(#blur04)"/>
<path d="M470,356h1v1h-1zM461,345h1v1h-1zM460,358h1v1h-1zM464,346h1v1h-1zM469,356h1v1h-1zM462,342h1v1h-1zM470,369h1v1h-1zM462,357h1v2h-1zM463,344h1v2h-1zM466,359h2v1h-2zM469,347h1v2h-1zM470,356h1v1h-1zM470,365h1v1h-1zM469,348h1v1h-1zM468,343h1v2h-1zM470,348h1v1h-1zM472,355h1v1h-1zM468,367h2v1h-2zM468,362h1v2h-1zM470,346h2v1h-2zM473,353h1v1h-1zM461,357h1v1h-1zM471,360h1v2h-1zM460,350h1v1h-1zM468,366h1v1h-1zM465,348h1v1h-1zM472,344h1v1h-1zM471,369h1v1h-1zM468,351h1v1h-1zM460,362h1v1h-1zM467,367h1v1h-1zM471,364h1v1h-1zM465,355h2v1h-2zM467,341h1v2h-1zM462,343h2v1h-2z" fill="#3a40b8" opacity="0.75" filter="url(#blur04)"/>
<path d="M486,365h1v1h-1zM488,366h1v1h-1zM488,360h1v1h-1zM480,365h1v1h-1zM478,346h1v1h-1zM480,350h2v1h-2zM485,351h1v1h-1zM482,343h2v1h-2zM484,352h1v2h-1zM489,361h1v2h-1zM489,346h1v1h-1zM480,341h2v1h-2zM489,341h1v1h-1zM485,347h1v1h-1zM484,363h1v1h-1zM483,345h1v1h-1zM485,350h1v1h-1zM486,343h2v1h-2zM479,351h1v1h-1zM491,351h1v1h-1zM481,349h1v1h-1zM484,352h1v1h-1zM486,344h1v1h-1zM484,343h1v1h-1zM490,342h2v1h-2zM489,350h1v2h-1zM489,356h1v2h-1zM480,356h2v1h-2zM479,358h1v1h-1zM489,341h2v1h-2zM480,359h1v2h-1zM490,357h1v1h-1zM481,352h1v1h-1zM486,349h1v1h-1z" fill="#3a40b8" opacity="0.75" filter="url(#blur04)"/>
<g fill="none" stroke="#3040c0" stroke-width="1.3" opacity="0.85"><circle cx="445" cy="355" r="3"/><circle cx="467" cy="352" r="2.6"/><circle cx="484" cy="360" r="2.5"/><circle cx="440" cy="370" r="2"/><circle cx="412" cy="364" r="2.5"/><circle cx="418" cy="352" r="2"/></g>
<clipPath id="dm1"><path transform="rotate(8 414.6 353.0)" d="M413.10,333.00 C411.60,335.00 406.10,339.40 406.10,346.20 L406.10,364.20 C406.10,371.00 410.35,373.00 414.60,373.00 C418.85,373.00 423.10,371.00 423.10,364.20 L423.10,346.20 C423.10,339.40 417.60,335.00 416.10,333.00 Z"/></clipPath>
<g clip-path="url(#dm1)" filter="url(#blur05)"><g transform="rotate(8 414.6 353.0)"><rect x="404.6" y="331" width="20" height="18" fill="#3050c8"/><rect x="404.6" y="335" width="20" height="6" fill="#50b8e0"/><rect x="404.6" y="339.5" width="20" height="5" fill="#70d060"/></g></g>
<circle cx="492" cy="357" r="4" fill="#3050c0"/><circle cx="492" cy="357" r="3" fill="#90d040"/><circle cx="492" cy="357" r="1.4" fill="#e8e050"/>
<circle cx="455" cy="356" r="3.5" fill="#40a8d0"/><circle cx="455" cy="356" r="2" fill="#70c860"/>
<text x="397.5" y="320" font-family="Liberation Sans, sans-serif" font-size="11" font-weight="bold" fill="#eeee58" text-anchor="start">Dasatinib and ESKM</text>
</g>
<rect x="505.7" y="307" width="3" height="90" fill="url(#cbar)"/>
<text x="510.3" y="314.4" font-family="Liberation Sans, sans-serif" font-size="2.6" fill="#555">7</text>
<line x1="508.6" y1="313.4" x2="509.8" y2="313.4" stroke="#777" stroke-width="0.4"/>
<text x="510.3" y="327.3" font-family="Liberation Sans, sans-serif" font-size="2.6" fill="#555">6</text>
<line x1="508.6" y1="326.3" x2="509.8" y2="326.3" stroke="#777" stroke-width="0.4"/>
<text x="510.3" y="340.1" font-family="Liberation Sans, sans-serif" font-size="2.6" fill="#555">5</text>
<line x1="508.6" y1="339.1" x2="509.8" y2="339.1" stroke="#777" stroke-width="0.4"/>
<text x="510.3" y="353.0" font-family="Liberation Sans, sans-serif" font-size="2.6" fill="#555">4</text>
<line x1="508.6" y1="352.0" x2="509.8" y2="352.0" stroke="#777" stroke-width="0.4"/>
<text x="510.3" y="365.9" font-family="Liberation Sans, sans-serif" font-size="2.6" fill="#555">3</text>
<line x1="508.6" y1="364.9" x2="509.8" y2="364.9" stroke="#777" stroke-width="0.4"/>
<text x="510.3" y="378.7" font-family="Liberation Sans, sans-serif" font-size="2.6" fill="#555">2</text>
<line x1="508.6" y1="377.7" x2="509.8" y2="377.7" stroke="#777" stroke-width="0.4"/>
<text x="510.3" y="391.6" font-family="Liberation Sans, sans-serif" font-size="2.6" fill="#555">1</text>
<line x1="508.6" y1="390.6" x2="509.8" y2="390.6" stroke="#777" stroke-width="0.4"/>
<rect x="505.5" y="401" width="7" height="8" fill="#fff" stroke="#888" stroke-width="0.5"/>
<text x="0.8" y="436.6" font-family="Liberation Sans, sans-serif" font-size="17.5" font-weight="bold">E</text>
<clipPath id="et0"><rect x="21" y="432" width="115.19999999999999" height="103"/></clipPath>
<g clip-path="url(#et0)">
<rect x="21" y="432" width="115.19999999999999" height="103" fill="#e4e4e8"/>
</g>
<clipPath id="et1"><rect x="137.4" y="432" width="114.9" height="103"/></clipPath>
<g clip-path="url(#et1)">
<rect x="137.4" y="432" width="114.9" height="103" fill="#e4e4e8"/>
</g>
<clipPath id="et2"><rect x="254" y="432" width="113.69999999999999" height="103"/></clipPath>
<g clip-path="url(#et2)">
<rect x="254" y="432" width="113.69999999999999" height="103" fill="#e4e4e8"/>
</g>
<clipPath id="et3"><rect x="369.5" y="432" width="114.5" height="103"/></clipPath>
<g clip-path="url(#et3)">
<rect x="369.5" y="432" width="114.5" height="103" fill="#e4e4e8"/>
</g>
<g clip-path="url(#et0)">
<rect x="21" y="432" width="5.5" height="103" fill="#d4d4dc"/><rect x="122" y="432" width="14.2" height="103" fill="#c0c0d0"/>
<path d="M44,446 C52,438 66,440 72,450 C80,460 94,472 98,492 C100,508 96,522 90,535 L48,535 C42,520 38,500 37,482 C35,466 38,452 44,446 Z" fill="#a8a8b0" filter="url(#rough3)"/>
<path d="M52,450 C58,444 66,446 68,456 C70,466 76,478 79,494 C81,504 79,510 75,511 C69,511 66,504 63,494 C59,480 54,470 52,462 Z" fill="#4a4a50" filter="url(#rough1)"/>
<path d="M58,466 C62,464 66,468 68,476 C71,486 74,496 74,502 C72,506 68,504 66,496 C63,486 59,476 58,466 Z" fill="#2c2c32" filter="url(#rough1)"/>
<path d="M40,446 L53,456 M32,484 L49,476 M95,462 L78,472 M58,530 L64,518 M82,532 L76,518" stroke="#505058" stroke-width="2.4" filter="url(#rough1)"/>
<ellipse cx="92.6" cy="501.5" rx="13" ry="13" fill="#4c5cc0" opacity="0.7" filter="url(#rough3)"/>
<ellipse cx="92.6" cy="502" rx="4" ry="4.5" fill="#60c878" filter="url(#blur05)"/>
<ellipse cx="57" cy="456" rx="9" ry="8" fill="#3848a8" opacity="0.6" filter="url(#rough1)"/><circle cx="51.8" cy="452" r="2.4" fill="#e02828"/><circle cx="59.7" cy="451" r="3" fill="#a8d040"/><circle cx="59.7" cy="451" r="1.5" fill="#e8d848"/>
<ellipse cx="66" cy="437" rx="9" ry="5" fill="#5060c0" opacity="0.5" filter="url(#rough1)"/>
</g>
<g clip-path="url(#et0)"><path d="M36,519h1v1h-1zM35,510h1v2h-1zM65,454h1v1h-1zM124,472h1v1h-1zM101,459h1v1h-1zM130,525h1v1h-1zM24,488h1v2h-1zM46,475h1v1h-1zM47,477h1v1h-1zM48,456h1v1h-1zM131,527h1v1h-1zM127,442h2v2h-2zM120,444h1v2h-1zM133,484h1v1h-1zM117,501h1v1h-1zM89,523h1v1h-1zM89,436h1v2h-1zM113,475h1v1h-1zM84,504h2v2h-2zM64,477h1v1h-1zM111,486h1v1h-1zM77,435h1v1h-1zM102,533h1v1h-1zM66,450h1v1h-1zM134,511h1v1h-1zM48,485h1v1h-1zM74,460h1v1h-1zM131,433h2v1h-2zM114,485h1v1h-1zM70,438h1v1h-1zM85,529h1v1h-1zM115,475h1v1h-1zM83,513h1v1h-1zM90,515h2v1h-2zM84,451h1v1h-1zM113,516h1v1h-1zM118,501h1v1h-1zM73,510h1v1h-1zM52,514h1v1h-1zM54,449h1v1h-1zM131,500h2v2h-2zM55,504h1v1h-1zM34,464h1v1h-1zM113,459h1v2h-1zM80,454h1v1h-1zM115,434h1v1h-1zM38,506h1v1h-1zM102,502h1v1h-1zM134,497h2v1h-2zM73,486h1v1h-1zM99,515h2v2h-2zM70,508h1v1h-1zM122,464h1v1h-1zM127,463h1v1h-1zM86,445h1v1h-1zM89,454h1v1h-1zM41,521h2v1h-2zM80,471h1v1h-1zM45,501h1v1h-1zM43,443h2v1h-2zM55,483h1v1h-1zM121,525h1v1h-1zM44,466h1v1h-1zM60,454h2v1h-2zM118,528h1v2h-1zM83,511h1v1h-1zM29,436h1v1h-1zM40,487h1v1h-1zM90,519h1v1h-1zM60,462h1v2h-1zM123,446h1v1h-1zM58,474h1v1h-1zM116,467h1v1h-1zM111,471h1v1h-1zM47,440h1v1h-1zM124,490h1v1h-1zM124,443h1v1h-1zM22,501h1v1h-1zM34,523h1v1h-1zM49,534h1v1h-1zM34,449h1v1h-1zM107,443h1v1h-1zM126,462h1v2h-1zM76,442h2v1h-2zM26,433h1v2h-1zM90,478h1v1h-1zM28,526h1v1h-1zM34,454h1v1h-1zM121,480h1v1h-1zM42,453h1v1h-1zM63,516h1v1h-1zM31,491h1v1h-1zM66,464h1v1h-1zM57,519h1v1h-1zM60,488h1v1h-1zM32,455h1v1h-1zM29,489h1v2h-1zM30,497h1v1h-1zM78,521h1v1h-1zM79,514h1v1h-1zM130,450h1v1h-1zM116,465h1v2h-1zM80,527h1v1h-1zM124,447h2v1h-2zM111,517h1v2h-1zM126,519h2v2h-2zM45,463h1v1h-1zM27,521h1v1h-1zM111,502h1v1h-1zM84,488h1v1h-1zM22,518h1v1h-1zM77,514h1v1h-1zM23,503h1v1h-1zM89,446h1v1h-1zM86,450h1v1h-1zM77,450h1v1h-1zM124,527h2v2h-2zM105,457h1v2h-1zM76,455h1v1h-1zM86,525h2v1h-2zM133,455h1v1h-1zM95,470h1v1h-1zM57,503h1v1h-1zM40,504h1v1h-1zM31,445h1v1h-1zM87,450h1v1h-1zM46,491h1v1h-1zM100,506h1v1h-1zM80,449h2v1h-2zM81,441h1v2h-1zM33,508h1v1h-1zM133,496h2v2h-2zM102,478h1v1h-1zM129,525h1v1h-1zM126,477h1v1h-1zM132,444h1v1h-1zM68,444h1v1h-1zM50,509h1v1h-1zM82,492h1v2h-1zM133,457h1v1h-1zM41,447h1v1h-1zM57,510h2v1h-2zM112,515h1v1h-1zM62,475h1v1h-1zM87,471h1v1h-1zM125,434h1v2h-1zM23,463h2v2h-2zM133,446h1v1h-1zM87,464h1v2h-1zM62,486h1v1h-1zM72,478h1v1h-1zM67,513h2v1h-2zM78,499h1v1h-1zM44,432h1v2h-1zM90,523h2v1h-2zM44,527h1v1h-1zM68,509h1v2h-1zM41,496h1v1h-1zM62,432h1v1h-1zM70,474h1v1h-1zM133,504h2v1h-2zM78,509h2v2h-2zM55,434h2v2h-2zM39,512h1v1h-1zM118,511h1v1h-1zM61,459h2v1h-2zM122,488h1v1h-1zM117,482h1v1h-1zM26,485h2v1h-2zM70,469h2v1h-2zM23,484h1v2h-1zM32,498h1v1h-1zM56,486h1v1h-1zM52,440h1v2h-1zM63,485h2v1h-2zM40,499h2v1h-2zM52,495h1v1h-1zM86,450h1v1h-1zM59,455h1v2h-1zM49,500h1v1h-1zM57,476h1v1h-1zM43,496h1v1h-1zM72,526h2v1h-2zM91,459h1v1h-1zM37,446h2v1h-2zM63,509h1v1h-1zM104,506h1v1h-1zM33,473h1v1h-1zM131,437h1v1h-1zM123,454h1v1h-1zM102,516h1v1h-1zM60,518h1v1h-1zM101,442h1v1h-1zM78,471h1v1h-1zM48,461h1v1h-1zM66,479h1v1h-1zM78,443h1v1h-1zM26,514h1v1h-1zM123,519h1v1h-1zM67,523h2v1h-2zM112,435h1v1h-1zM122,488h1v1h-1zM50,440h2v1h-2zM125,436h1v1h-1zM118,436h1v1h-1zM71,452h1v2h-1zM36,461h1v2h-1zM73,466h1v1h-1zM95,457h1v1h-1zM129,493h1v1h-1zM91,490h1v1h-1zM125,488h1v1h-1zM103,487h2v1h-2zM103,509h2v1h-2zM50,533h1v1h-1zM127,520h1v1h-1zM94,526h1v1h-1zM79,442h1v1h-1zM36,435h2v1h-2zM124,511h1v1h-1zM106,460h1v1h-1zM31,436h1v1h-1zM105,464h1v1h-1zM113,515h2v1h-2zM32,519h1v1h-1zM45,527h1v1h-1zM131,492h1v1h-1zM96,478h1v2h-1zM118,492h1v1h-1zM24,533h1v2h-1zM39,470h1v1h-1zM32,468h1v1h-1zM26,516h2v1h-2zM57,463h1v1h-1zM58,509h1v1h-1zM82,447h2v1h-2zM111,491h1v1h-1zM76,526h2v1h-2zM115,527h1v1h-1zM37,486h1v1h-1zM111,504h2v1h-2zM63,529h2v1h-2zM67,480h1v1h-1zM79,435h1v2h-1zM46,446h1v1h-1zM109,529h1v1h-1zM115,533h2v1h-2zM103,453h1v2h-1zM87,498h1v1h-1zM95,450h1v1h-1zM89,525h1v2h-1zM114,455h1v1h-1zM78,525h1v1h-1zM73,470h1v1h-1zM105,516h1v1h-1zM44,509h1v1h-1zM122,440h1v1h-1zM113,492h1v1h-1zM119,479h1v1h-1zM101,498h1v1h-1zM116,485h2v1h-2zM133,488h1v1h-1zM54,474h1v1h-1zM90,492h1v1h-1zM36,478h1v1h-1zM110,532h1v2h-1zM22,476h2v1h-2zM25,475h1v2h-1zM124,501h1v1h-1zM118,471h1v1h-1zM113,470h2v1h-2zM110,472h1v1h-1zM62,475h1v1h-1zM115,470h1v1h-1zM112,530h1v1h-1zM129,462h1v2h-1zM53,467h1v1h-1zM103,483h1v2h-1zM70,439h1v1h-1zM47,435h1v1h-1zM76,530h1v2h-1zM104,518h1v1h-1zM84,487h1v1h-1zM130,532h1v2h-1zM85,475h2v2h-2zM35,459h1v1h-1zM76,514h1v1h-1zM99,441h1v1h-1zM98,462h1v1h-1zM125,444h1v1h-1zM38,495h2v1h-2zM40,459h2v1h-2zM54,483h1v1h-1zM112,496h1v1h-1zM22,534h2v1h-2zM128,532h1v1h-1zM83,477h1v1h-1zM80,460h1v1h-1zM38,458h1v1h-1zM94,525h1v1h-1zM117,484h1v1h-1zM53,504h1v1h-1zM46,470h1v1h-1zM60,494h1v2h-1zM122,503h1v1h-1zM28,466h2v1h-2zM95,516h1v1h-1zM93,481h1v1h-1zM123,504h1v1h-1zM94,517h1v1h-1zM41,444h1v1h-1zM79,500h1v1h-1zM59,512h1v1h-1zM46,509h1v2h-1zM93,521h1v1h-1zM104,471h1v1h-1zM61,444h1v2h-1zM87,468h1v2h-1zM50,487h1v1h-1zM30,527h1v2h-1zM95,457h2v1h-2zM53,485h1v1h-1zM62,515h2v2h-2zM118,494h1v1h-1zM31,491h2v1h-2zM76,475h1v1h-1zM124,497h1v1h-1zM27,484h1v1h-1zM46,477h1v1h-1zM50,460h1v1h-1zM76,474h1v2h-1zM64,499h1v1h-1zM84,519h2v1h-2zM100,435h1v1h-1zM100,448h1v1h-1zM99,517h1v1h-1zM63,462h1v1h-1zM117,474h1v1h-1zM52,501h2v1h-2zM131,487h1v2h-1zM36,509h1v1h-1zM24,476h2v1h-2zM53,470h1v1h-1zM74,442h1v2h-1zM102,432h1v1h-1zM89,487h1v1h-1zM52,533h2v1h-2zM113,516h1v1h-1zM49,490h1v1h-1zM34,436h2v1h-2zM70,507h1v2h-1zM93,525h1v1h-1zM71,471h1v1h-1zM72,504h2v1h-2zM81,438h2v1h-2zM124,450h2v2h-2zM77,467h2v1h-2zM133,434h1v1h-1zM94,530h1v2h-1zM47,458h1v2h-1zM49,502h2v1h-2zM64,499h2v2h-2zM129,476h1v1h-1zM35,482h1v1h-1zM38,471h1v1h-1zM96,529h1v1h-1zM98,514h1v1h-1zM39,486h1v1h-1zM23,473h2v2h-2zM106,526h1v2h-1zM66,433h1v1h-1zM126,500h1v2h-1zM49,512h1v1h-1zM41,492h1v1h-1zM70,514h1v2h-1zM43,484h1v2h-1zM67,480h1v2h-1z" fill="#44445e" opacity="0.65" filter="url(#blur04)"/></g>
<g clip-path="url(#et0)"><path d="M131,470h1v1h-1zM116,519h2v2h-2zM90,472h1v1h-1zM112,500h1v2h-1zM52,520h1v1h-1zM57,481h1v1h-1zM94,469h1v1h-1zM39,519h1v1h-1zM87,510h1v1h-1zM92,522h1v1h-1zM74,473h1v1h-1zM83,437h1v1h-1zM100,533h2v2h-2zM54,499h1v1h-1zM103,474h1v2h-1zM115,447h1v1h-1zM35,462h2v1h-2zM64,492h1v2h-1zM103,437h1v1h-1zM84,456h1v2h-1zM94,456h1v2h-1zM63,470h2v1h-2zM59,492h2v1h-2zM108,455h1v2h-1zM120,493h2v1h-2zM110,506h1v1h-1zM101,513h1v1h-1zM124,514h1v1h-1zM71,504h2v1h-2zM127,527h1v1h-1zM79,484h1v1h-1zM85,474h1v1h-1zM72,462h1v1h-1zM83,497h1v1h-1zM55,454h1v1h-1zM61,492h1v1h-1zM73,457h1v1h-1zM70,468h1v1h-1zM38,510h1v1h-1zM61,475h1v1h-1zM78,531h1v2h-1zM108,494h1v2h-1zM85,493h1v1h-1zM106,514h1v2h-1zM83,522h1v1h-1zM54,467h1v2h-1zM59,525h1v1h-1zM80,473h1v1h-1zM94,520h1v1h-1zM84,494h1v1h-1zM85,526h1v1h-1zM68,530h1v2h-1zM127,447h2v1h-2zM76,493h1v1h-1zM117,443h1v1h-1zM109,469h1v1h-1zM95,509h2v1h-2zM71,497h1v2h-1zM98,441h1v1h-1zM64,465h1v1h-1zM96,501h1v1h-1zM88,485h1v1h-1zM96,509h2v1h-2zM93,511h1v1h-1zM87,499h1v2h-1zM68,503h1v1h-1zM62,467h1v2h-1zM75,466h1v1h-1zM85,467h1v1h-1zM73,442h1v1h-1zM89,468h1v1h-1zM63,492h1v2h-1zM45,462h1v1h-1zM94,515h1v1h-1zM108,466h2v1h-2zM93,508h1v2h-1zM64,450h1v1h-1zM69,488h1v1h-1zM102,511h2v1h-2zM47,501h1v1h-1zM86,452h1v1h-1zM75,493h1v1h-1zM90,477h1v1h-1zM58,493h2v2h-2zM112,472h1v1h-1zM99,484h2v2h-2zM116,517h2v1h-2zM66,486h2v1h-2zM111,484h1v1h-1zM46,500h1v2h-1zM84,502h1v1h-1zM76,449h1v1h-1zM58,514h1v1h-1zM79,450h1v1h-1zM84,475h1v2h-1zM65,499h1v1h-1zM65,494h1v1h-1zM105,491h2v2h-2zM107,506h2v1h-2zM36,506h1v1h-1zM110,487h1v1h-1zM97,490h2v2h-2zM89,503h1v1h-1zM74,474h1v1h-1zM79,490h1v1h-1zM97,459h1v2h-1zM69,531h1v2h-1zM33,474h1v1h-1zM88,467h2v1h-2zM67,465h1v1h-1zM65,468h1v1h-1zM89,450h1v1h-1zM83,523h1v1h-1zM111,526h1v1h-1zM85,517h1v1h-1zM63,517h1v1h-1zM119,448h1v2h-1zM84,513h1v1h-1zM99,468h2v1h-2zM85,505h1v1h-1zM77,528h1v1h-1zM93,443h1v2h-1zM103,474h2v2h-2zM114,474h2v2h-2zM114,470h2v1h-2zM49,481h1v1h-1zM71,522h1v1h-1zM71,495h1v1h-1zM91,486h1v1h-1zM68,513h2v2h-2zM55,505h1v1h-1zM66,506h2v1h-2zM71,506h1v1h-1zM118,480h1v1h-1zM93,512h1v1h-1zM93,533h2v1h-2zM130,511h2v1h-2zM91,496h1v1h-1zM64,498h1v1h-1zM70,483h2v2h-2zM63,471h1v1h-1zM83,455h1v1h-1zM96,456h1v1h-1zM122,486h1v1h-1zM57,509h1v1h-1zM52,502h1v2h-1zM66,490h1v1h-1zM47,502h1v1h-1zM72,472h1v1h-1zM23,528h1v2h-1zM38,503h1v1h-1zM91,496h1v1h-1zM71,455h1v1h-1zM78,489h1v1h-1zM61,434h1v1h-1zM68,491h1v1h-1zM92,503h1v1h-1zM85,519h1v2h-1zM110,440h2v1h-2zM31,487h1v1h-1zM112,524h2v1h-2zM87,508h1v1h-1zM87,502h1v1h-1zM91,454h1v1h-1zM96,488h2v1h-2zM70,448h1v1h-1zM66,484h1v1h-1zM52,469h2v1h-2zM78,443h1v1h-1zM116,505h1v1h-1zM75,485h1v1h-1zM102,526h1v1h-1zM127,481h1v2h-1zM76,510h1v2h-1zM98,437h1v1h-1zM123,516h2v2h-2zM98,495h1v2h-1zM75,467h1v1h-1zM65,501h2v1h-2zM50,462h1v1h-1zM85,444h1v1h-1zM101,485h1v1h-1zM58,464h1v1h-1z" fill="#3c3c80" opacity="0.6" filter="url(#blur04)"/></g>
<g clip-path="url(#et0)"><path d="M125,488h1v1h-1zM129,492h1v1h-1zM135,480h1v1h-1zM125,506h1v1h-1zM129,498h1v1h-1zM131,521h1v1h-1zM132,501h1v1h-1zM133,493h1v1h-1zM134,460h1v2h-1zM135,472h1v1h-1zM132,491h1v1h-1zM123,446h1v1h-1zM131,463h1v1h-1zM130,487h1v1h-1zM125,467h1v1h-1zM124,521h1v1h-1zM130,506h1v2h-1zM134,491h1v1h-1zM123,520h1v1h-1zM127,439h1v1h-1zM126,511h1v1h-1zM130,510h1v2h-1zM130,489h1v1h-1zM125,436h1v1h-1zM124,487h1v1h-1zM126,459h2v1h-2zM127,446h1v1h-1zM128,486h2v1h-2zM132,443h1v1h-1zM128,506h1v1h-1zM128,459h1v1h-1zM127,513h1v1h-1zM122,495h2v1h-2zM123,497h1v1h-1zM132,468h2v1h-2zM132,434h1v2h-1zM122,470h2v1h-2zM126,494h1v1h-1zM125,510h1v1h-1zM126,471h1v1h-1zM132,446h1v1h-1zM131,460h1v1h-1zM131,499h1v1h-1zM130,530h2v1h-2zM128,520h1v1h-1zM127,499h1v1h-1zM126,513h1v1h-1zM134,491h1v1h-1zM133,498h1v1h-1zM130,475h1v1h-1zM129,497h1v1h-1zM130,436h1v1h-1zM125,481h1v1h-1zM128,530h2v1h-2zM122,479h2v2h-2zM129,462h1v1h-1zM134,520h1v1h-1zM133,437h2v1h-2zM135,524h1v1h-1zM123,482h1v1h-1zM129,457h1v1h-1zM130,437h1v1h-1zM127,458h1v1h-1zM133,438h1v1h-1zM124,523h1v1h-1zM125,460h1v1h-1zM129,491h1v1h-1zM133,458h1v1h-1zM129,437h1v1h-1zM134,512h1v1h-1zM123,482h1v2h-1zM123,484h1v1h-1zM126,468h2v1h-2zM130,469h1v1h-1zM128,445h1v2h-1zM132,514h1v1h-1zM123,479h2v1h-2zM127,515h1v1h-1zM123,497h2v1h-2zM128,503h1v1h-1zM125,487h2v1h-2zM123,476h1v1h-1zM134,528h1v1h-1zM133,459h1v2h-1zM124,516h2v1h-2zM133,501h2v1h-2zM130,443h1v2h-1zM122,447h1v1h-1zM129,490h2v1h-2zM125,434h1v1h-1zM134,501h2v1h-2zM130,514h1v1h-1zM129,506h1v1h-1zM132,528h1v1h-1zM127,490h1v1h-1zM128,504h1v1h-1zM127,473h1v1h-1zM128,441h1v1h-1zM132,449h2v1h-2zM133,501h1v2h-1zM129,498h1v1h-1zM123,509h2v1h-2zM134,446h1v1h-1zM130,464h1v2h-1zM130,512h2v2h-2zM134,493h1v1h-1zM126,460h1v1h-1zM124,469h1v1h-1zM133,447h2v1h-2zM132,453h1v2h-1zM130,482h2v1h-2zM134,473h2v1h-2zM129,456h1v2h-1zM132,502h1v1h-1zM125,452h1v1h-1zM125,505h1v1h-1zM124,437h1v1h-1zM123,514h1v1h-1zM126,526h1v1h-1zM128,508h1v1h-1zM122,466h1v1h-1zM123,498h2v1h-2zM127,488h1v1h-1zM123,477h1v1h-1zM135,442h2v1h-2zM131,470h1v1h-1zM131,501h1v1h-1zM133,531h2v1h-2zM130,444h1v1h-1zM127,506h2v2h-2zM130,451h2v2h-2zM131,450h2v1h-2zM124,528h1v1h-1zM131,499h1v1h-1zM126,451h1v1h-1zM133,505h1v2h-1zM125,489h1v2h-1zM127,442h1v1h-1zM123,446h1v1h-1zM126,504h1v1h-1zM134,529h1v1h-1zM133,439h1v1h-1zM124,493h2v1h-2zM130,526h1v1h-1zM132,490h2v2h-2zM127,533h1v1h-1zM131,521h1v1h-1zM129,491h1v1h-1zM127,462h1v1h-1zM130,492h2v1h-2zM126,521h1v1h-1zM130,507h1v1h-1zM133,500h1v1h-1zM129,479h1v1h-1zM125,516h2v1h-2zM124,461h2v1h-2zM124,514h1v1h-1zM122,496h1v1h-1zM129,434h1v1h-1zM127,467h2v1h-2zM123,518h1v2h-1zM123,453h2v1h-2zM129,443h1v1h-1zM123,453h1v1h-1zM129,504h1v1h-1zM125,482h1v1h-1zM128,503h1v1h-1zM128,436h1v1h-1zM134,478h1v1h-1zM128,532h1v1h-1zM133,447h1v1h-1zM125,454h1v1h-1zM128,449h1v1h-1zM124,449h1v1h-1zM123,434h1v1h-1zM128,504h1v1h-1zM128,473h1v1h-1zM125,472h1v1h-1zM127,444h1v1h-1zM123,507h1v1h-1zM133,531h1v1h-1zM130,435h1v2h-1zM123,477h1v1h-1zM131,443h2v1h-2zM122,484h1v1h-1zM125,485h1v1h-1zM135,510h1v1h-1zM135,529h1v1h-1zM126,495h1v1h-1zM128,484h1v1h-1zM130,512h1v1h-1zM134,521h1v1h-1zM127,451h1v1h-1zM125,512h1v1h-1zM126,449h2v1h-2zM135,504h1v1h-1zM124,505h1v1h-1zM123,503h2v1h-2zM126,494h2v1h-2zM134,522h1v1h-1zM135,507h1v1h-1zM122,452h1v1h-1zM130,443h1v2h-1zM125,503h1v2h-1zM124,533h1v1h-1zM126,454h1v1h-1zM128,512h1v1h-1zM133,487h1v1h-1zM124,440h1v1h-1zM122,532h1v1h-1zM123,480h1v2h-1zM131,498h2v2h-2zM127,494h1v1h-1zM126,529h1v1h-1zM125,488h1v1h-1zM132,440h1v1h-1zM129,439h1v2h-1zM132,476h2v1h-2zM130,454h1v1h-1zM127,476h1v1h-1zM125,449h1v2h-1zM125,522h2v1h-2zM128,505h1v1h-1zM133,474h1v1h-1z" fill="#3a3a88" opacity="0.6" filter="url(#blur04)"/></g>
<g clip-path="url(#et1)">
<rect x="137.4" y="432" width="114.9" height="103" fill="#ececee"/>
<rect x="137.8" y="432" width="1.4" height="103" fill="#a0a0a4"/>
<rect x="235.8" y="432" width="14.8" height="103" fill="#c8c8d6"/>
<path d="M158,470 C162,452 176,444 192,446 C206,446 214,452 216,465 C217,478 214,488 208,494 L164,494 C160,486 156,478 158,470 Z" fill="#c4c4c8" filter="url(#rough3)"/>
<path d="M150,480 C156,470 164,468 170,480 L174,510 L160,520 C152,508 148,492 150,480 Z" fill="#cacace" filter="url(#rough3)"/>
<path d="M174,462 C177,454 186,453 191,459 C195,469 189,480 181,482 C175,480 171,472 174,462 Z" fill="#88888e" filter="url(#rough2)"/>
<path d="M155,462 L170,476 M190,461 L200,470" stroke="#5a5a60" stroke-width="2.4" filter="url(#rough1)"/>
<ellipse cx="221" cy="476" rx="8" ry="6" fill="#4c4c54" filter="url(#rough1)"/>
<path d="M172,488 C180,484 198,484 206,490 C212,505 214,520 210,535 L164,535 C160,522 166,500 172,488 Z" fill="#3c3c44" filter="url(#rough2)"/>
<path d="M188,496 C196,492 206,496 208,506 C210,518 206,528 198,530 C190,530 186,520 186,508 Z" fill="none" stroke="#3050c0" stroke-width="1.2" opacity="0.45"/>
<circle cx="196.8" cy="512" r="5.5" fill="#3050c0"/><circle cx="196.8" cy="512" r="4" fill="#e08030"/><circle cx="196.8" cy="512" r="2.6" fill="#d82820"/><circle cx="195.5" cy="503" r="2.4" fill="#50c8e8"/>
</g>
<g clip-path="url(#et1)"><path d="M165,443h1v1h-1zM155,439h1v1h-1zM243,514h1v1h-1zM197,469h1v1h-1zM167,529h1v2h-1zM230,514h1v1h-1zM173,497h2v1h-2zM147,494h2v1h-2zM196,450h1v1h-1zM148,528h1v1h-1zM138,462h2v1h-2zM235,484h1v1h-1zM206,476h1v1h-1zM172,516h1v1h-1zM143,497h1v1h-1zM199,481h1v1h-1zM185,453h2v1h-2zM169,469h2v1h-2zM174,490h1v1h-1zM234,505h1v1h-1zM208,456h1v1h-1zM171,435h1v2h-1zM147,531h1v2h-1zM215,466h1v1h-1zM174,448h2v1h-2zM236,522h2v1h-2zM171,452h1v1h-1zM153,471h1v1h-1zM203,469h1v1h-1zM179,515h1v1h-1zM149,533h1v1h-1zM150,438h2v1h-2zM206,532h1v1h-1zM200,492h1v1h-1zM151,487h1v2h-1zM251,481h1v1h-1zM185,436h1v1h-1zM166,524h1v1h-1zM159,436h1v1h-1zM198,512h1v1h-1zM154,437h1v1h-1zM151,491h2v2h-2zM237,506h1v1h-1zM182,476h1v1h-1zM176,500h2v1h-2zM231,486h2v2h-2zM229,467h1v1h-1zM146,532h2v2h-2zM159,473h1v1h-1zM226,460h1v1h-1zM216,480h1v2h-1zM184,472h1v1h-1zM243,433h1v1h-1zM183,511h1v1h-1zM201,523h1v1h-1zM215,466h1v1h-1zM243,477h1v1h-1zM217,444h1v1h-1zM207,446h1v1h-1zM226,486h1v1h-1zM234,517h1v1h-1zM190,453h1v1h-1zM164,482h1v1h-1zM146,526h1v1h-1zM219,478h2v1h-2zM211,528h1v1h-1zM151,490h1v1h-1zM158,447h1v1h-1zM167,532h1v2h-1zM157,499h1v1h-1zM150,513h1v1h-1zM198,486h1v1h-1zM178,511h2v1h-2zM215,495h1v1h-1zM242,480h1v1h-1zM245,484h1v1h-1zM208,472h1v1h-1zM179,500h1v1h-1zM147,447h1v1h-1zM170,529h1v1h-1zM229,502h1v1h-1zM184,528h1v1h-1zM213,466h1v1h-1zM207,486h1v1h-1zM230,530h1v1h-1zM205,483h1v1h-1zM225,532h1v1h-1zM212,502h2v1h-2zM208,518h1v2h-1zM184,494h1v2h-1zM163,470h2v1h-2zM199,487h1v1h-1zM196,532h1v1h-1zM188,493h1v1h-1zM241,479h1v1h-1zM232,474h1v1h-1zM141,485h1v2h-1zM243,494h1v1h-1zM224,482h2v1h-2zM240,512h1v1h-1zM145,446h1v1h-1zM183,492h1v1h-1zM219,487h1v1h-1zM166,509h1v1h-1zM246,440h1v1h-1zM238,498h1v2h-1zM218,507h2v1h-2zM247,522h2v1h-2zM202,503h2v1h-2zM155,474h1v1h-1zM193,439h1v1h-1zM238,458h1v1h-1zM216,521h1v1h-1zM182,476h1v1h-1zM238,434h1v1h-1zM155,519h1v1h-1zM164,433h2v1h-2zM159,517h2v2h-2z" fill="#44446a" opacity="0.6" filter="url(#blur04)"/></g>
<g clip-path="url(#et1)"><path d="M245,508h2v2h-2zM245,487h1v1h-1zM245,525h1v1h-1zM243,457h1v1h-1zM244,433h1v1h-1zM240,526h1v1h-1zM247,439h1v1h-1zM242,446h1v1h-1zM247,531h1v1h-1zM240,531h1v2h-1zM245,451h2v1h-2zM240,469h1v1h-1zM240,466h1v1h-1zM236,502h1v1h-1zM240,516h1v2h-1zM240,482h2v1h-2zM237,532h1v2h-1zM241,474h1v1h-1zM241,492h1v1h-1zM236,451h1v1h-1zM247,528h1v1h-1zM243,524h1v1h-1zM237,509h1v1h-1zM236,529h1v1h-1zM241,495h1v1h-1zM240,504h1v1h-1zM246,464h1v2h-1zM238,503h1v1h-1zM246,440h1v1h-1zM249,435h2v1h-2zM241,458h2v1h-2zM238,533h2v1h-2zM248,466h1v1h-1zM238,524h1v1h-1zM238,470h1v1h-1zM240,479h1v1h-1zM243,507h1v1h-1zM240,474h1v1h-1zM241,534h1v2h-1zM238,483h1v1h-1zM249,469h1v2h-1zM244,436h1v1h-1zM244,501h1v1h-1zM247,503h1v1h-1zM245,492h1v1h-1zM244,458h2v1h-2zM243,516h2v2h-2zM248,468h2v1h-2zM247,517h1v1h-1zM249,503h1v1h-1zM243,487h1v1h-1zM248,529h1v1h-1zM246,506h2v1h-2zM238,512h1v1h-1zM246,475h1v1h-1zM247,498h2v1h-2zM239,492h1v2h-1zM238,510h1v2h-1zM246,534h1v1h-1zM237,446h1v1h-1zM243,488h1v1h-1zM241,500h1v1h-1zM239,506h1v1h-1zM241,530h1v1h-1zM246,488h1v1h-1zM245,442h1v1h-1zM241,492h1v1h-1zM242,516h2v1h-2zM241,447h1v1h-1zM244,531h1v1h-1zM237,517h2v1h-2zM241,466h1v1h-1zM238,497h1v1h-1zM242,533h1v1h-1zM243,505h1v1h-1zM245,459h1v1h-1zM240,434h1v1h-1zM250,447h1v1h-1zM246,531h1v1h-1zM236,446h1v1h-1zM243,490h1v1h-1zM247,457h1v1h-1zM246,461h1v1h-1zM249,523h1v1h-1zM247,463h1v2h-1zM241,463h1v1h-1zM243,469h2v1h-2zM238,432h1v1h-1zM246,443h2v1h-2zM239,476h1v1h-1zM244,505h2v2h-2zM243,526h1v1h-1zM242,520h1v1h-1zM243,510h1v1h-1zM246,477h1v2h-1zM247,526h1v1h-1zM243,489h1v1h-1zM244,476h1v1h-1zM237,456h1v1h-1zM246,435h2v1h-2zM246,437h1v1h-1zM245,517h1v2h-1zM246,477h1v1h-1zM239,515h1v1h-1zM239,489h2v1h-2zM247,461h1v1h-1zM238,473h1v1h-1zM236,441h2v1h-2zM243,468h2v1h-2zM249,446h1v1h-1zM244,502h1v1h-1zM244,455h1v1h-1zM239,518h1v1h-1zM249,479h1v1h-1zM238,434h1v1h-1zM244,436h1v1h-1zM245,457h1v1h-1zM244,488h1v1h-1zM248,529h1v2h-1zM248,509h1v2h-1zM243,454h2v1h-2zM241,518h1v1h-1zM250,505h1v1h-1zM238,518h2v1h-2zM248,477h1v1h-1zM239,451h1v1h-1zM236,451h1v1h-1zM243,529h2v1h-2zM236,480h1v1h-1zM241,480h1v1h-1zM245,439h1v1h-1zM238,458h1v1h-1zM247,501h1v1h-1zM249,467h1v1h-1zM246,481h1v1h-1zM247,465h1v2h-1zM236,506h1v1h-1zM246,496h2v1h-2zM246,451h1v1h-1zM243,512h1v2h-1zM239,437h1v1h-1zM247,460h1v1h-1zM243,502h1v1h-1zM236,518h1v1h-1zM241,442h1v1h-1zM249,483h1v1h-1zM246,498h1v1h-1zM247,437h1v1h-1zM240,437h1v1h-1zM238,484h1v1h-1zM244,441h1v1h-1zM237,533h1v1h-1zM237,507h1v1h-1zM242,469h1v1h-1zM247,486h1v2h-1zM236,510h2v1h-2zM244,446h1v1h-1zM247,459h1v1h-1zM238,487h1v1h-1zM246,514h1v2h-1zM239,438h2v1h-2zM237,453h1v1h-1zM249,439h1v1h-1zM247,489h1v2h-1zM236,447h2v2h-2zM247,434h1v2h-1zM242,443h1v1h-1zM238,439h1v1h-1zM240,502h1v1h-1zM237,511h1v1h-1zM236,437h1v1h-1zM242,459h1v1h-1zM239,476h1v1h-1zM241,433h1v1h-1zM248,507h1v1h-1zM244,450h2v1h-2zM242,529h1v1h-1zM241,478h1v1h-1zM245,450h1v2h-1zM237,516h1v2h-1zM237,533h1v1h-1zM239,505h1v1h-1zM243,453h1v1h-1zM244,469h1v1h-1zM241,458h2v1h-2zM245,473h1v1h-1zM248,482h1v1h-1zM238,442h2v1h-2zM249,453h1v1h-1zM246,521h1v1h-1zM248,471h1v1h-1zM243,492h1v1h-1zM236,502h1v1h-1zM243,484h1v2h-1zM246,478h1v2h-1zM244,438h1v1h-1zM241,493h2v1h-2zM239,461h1v1h-1zM247,495h2v1h-2zM240,528h1v2h-1zM239,436h1v2h-1zM241,515h2v1h-2zM245,454h1v1h-1zM249,457h1v1h-1zM242,432h1v1h-1zM238,499h1v2h-1zM245,472h1v2h-1zM249,503h1v1h-1zM249,454h1v1h-1zM248,440h1v1h-1zM245,511h1v2h-1zM237,490h2v1h-2zM247,475h1v1h-1zM244,525h1v1h-1zM240,494h1v1h-1zM242,447h1v1h-1zM244,490h1v1h-1zM241,443h2v1h-2zM247,438h1v1h-1zM248,531h1v1h-1zM248,498h1v2h-1zM245,514h1v1h-1zM239,448h1v1h-1zM238,495h1v1h-1zM247,508h1v2h-1zM249,489h1v2h-1zM249,522h1v1h-1zM248,452h1v1h-1zM238,524h2v1h-2zM239,529h1v1h-1zM236,533h1v1h-1zM246,483h1v2h-1zM237,510h2v2h-2zM240,444h1v1h-1zM247,452h1v1h-1zM238,525h2v2h-2zM247,441h1v1h-1zM242,529h1v1h-1zM242,455h1v1h-1zM246,440h1v1h-1zM244,477h1v1h-1zM248,520h1v1h-1z" fill="#3a3a88" opacity="0.55" filter="url(#blur04)"/></g>
<g clip-path="url(#et2)">
<rect x="254" y="432" width="103.7" height="103" fill="#e2e2e8"/>
<rect x="254" y="432" width="8.3" height="103" fill="#181828"/><rect x="359.8" y="432" width="7.9" height="103" fill="#181828"/>
<rect x="277.5" y="435" width="70" height="97" rx="7" fill="none" stroke="#a8a8b0" stroke-width="1.8"/>
<ellipse cx="317" cy="482" rx="23" ry="21" fill="#4454b8" opacity="0.8" filter="url(#rough3)"/>
<ellipse cx="320" cy="455" rx="8" ry="10" fill="#94949c" filter="url(#rough2)"/>
<ellipse cx="316" cy="485" rx="15" ry="17" fill="#2a2a32" filter="url(#rough2)"/>
<ellipse cx="328" cy="472" rx="3.5" ry="4.5" fill="#70d060"/>
<path d="M319,500 L320,534 M312,505 L307,521 M330,503 L343,510 M332,468 L340,462" stroke="#6a6a72" stroke-width="2.4" filter="url(#rough1)"/>
</g>
<g clip-path="url(#et2)"><path d="M340,517h1v1h-1zM266,447h1v1h-1zM356,508h1v1h-1zM289,515h2v1h-2zM351,488h1v1h-1zM317,504h2v1h-2zM327,495h1v1h-1zM295,442h1v1h-1zM306,442h1v2h-1zM324,462h1v1h-1zM350,517h1v1h-1zM353,526h1v1h-1zM325,504h1v1h-1zM324,457h1v1h-1zM297,444h1v2h-1zM313,444h2v1h-2zM293,452h1v1h-1zM276,454h2v1h-2zM263,512h1v2h-1zM295,525h1v1h-1zM292,471h1v1h-1zM267,476h2v1h-2zM271,477h1v1h-1zM328,524h1v1h-1zM340,485h1v1h-1zM331,474h1v1h-1zM335,459h1v2h-1zM339,450h1v1h-1zM274,493h1v1h-1zM287,479h1v1h-1zM358,527h1v1h-1zM309,494h2v1h-2zM310,506h1v1h-1zM324,480h1v2h-1zM278,526h1v1h-1zM330,459h2v1h-2zM357,507h1v1h-1zM317,496h1v1h-1zM265,512h1v2h-1zM332,469h1v1h-1zM268,452h1v1h-1zM263,515h1v1h-1zM269,456h1v1h-1zM356,502h1v1h-1zM293,436h2v1h-2zM332,437h1v1h-1zM333,439h1v2h-1zM316,496h1v1h-1zM322,526h2v1h-2zM311,434h2v1h-2zM342,451h1v1h-1zM338,478h1v1h-1zM332,439h1v1h-1zM290,529h1v1h-1zM346,461h1v1h-1zM305,470h2v1h-2zM286,494h1v1h-1zM335,508h1v1h-1zM265,530h2v1h-2zM331,467h1v1h-1zM334,444h1v1h-1zM307,483h1v1h-1zM269,486h1v1h-1zM313,447h1v2h-1zM277,491h1v1h-1zM354,504h2v1h-2zM303,449h1v1h-1zM317,432h1v1h-1zM280,466h1v1h-1zM305,473h1v1h-1zM345,446h1v2h-1zM315,509h1v2h-1zM280,447h2v2h-2zM275,440h1v1h-1zM308,438h2v2h-2zM315,501h1v1h-1zM268,455h1v1h-1zM337,503h1v1h-1zM308,507h1v1h-1zM349,477h1v2h-1zM358,437h1v2h-1zM331,458h1v1h-1zM342,499h1v2h-1zM283,493h1v1h-1zM339,509h2v2h-2zM294,485h1v1h-1zM325,469h2v1h-2zM284,511h1v2h-1zM355,477h1v1h-1zM276,433h1v1h-1zM262,517h1v2h-1zM320,460h1v1h-1zM303,451h2v1h-2zM358,476h1v2h-1zM343,528h1v1h-1zM291,435h1v1h-1zM341,491h1v1h-1zM278,448h1v1h-1zM310,522h2v1h-2zM341,480h2v1h-2zM277,527h1v1h-1zM303,465h1v1h-1zM320,502h1v1h-1zM338,450h1v1h-1zM323,456h2v1h-2zM281,474h1v1h-1zM353,437h1v1h-1zM352,523h1v2h-1zM320,521h2v2h-2zM340,439h1v1h-1zM273,494h2v1h-2zM342,484h2v1h-2zM270,518h1v1h-1zM296,448h2v1h-2zM279,451h2v1h-2zM346,508h1v1h-1zM273,495h1v1h-1zM318,508h1v2h-1zM288,439h1v1h-1zM348,435h2v1h-2zM293,433h2v1h-2zM300,496h1v2h-1zM344,470h1v1h-1zM327,480h1v1h-1zM354,524h1v1h-1zM358,470h1v2h-1zM316,459h1v1h-1zM301,452h1v1h-1zM305,458h1v1h-1zM291,503h1v1h-1zM316,523h1v1h-1zM335,500h1v1h-1zM314,516h1v1h-1zM287,519h1v1h-1zM346,491h1v1h-1zM289,460h1v2h-1zM358,471h2v2h-2zM279,432h1v1h-1zM280,451h2v1h-2zM309,524h1v1h-1zM274,508h1v1h-1zM319,496h1v1h-1zM288,498h1v1h-1zM327,484h1v1h-1zM313,498h1v1h-1zM339,509h1v1h-1zM303,498h1v1h-1zM326,465h2v1h-2zM268,500h1v1h-1zM304,441h2v1h-2zM296,439h2v1h-2zM296,474h2v2h-2zM270,444h1v1h-1zM333,524h1v1h-1zM352,512h1v1h-1zM277,513h2v2h-2zM346,525h1v1h-1zM340,446h1v1h-1zM301,482h1v2h-1zM289,450h1v1h-1zM272,434h1v1h-1zM294,475h2v1h-2zM322,482h1v1h-1zM306,514h1v1h-1zM284,517h1v1h-1zM319,480h2v1h-2zM320,493h1v1h-1zM351,508h1v1h-1zM301,491h1v2h-1zM265,464h1v2h-1zM287,526h1v1h-1zM297,505h1v1h-1zM351,474h1v1h-1zM292,493h1v1h-1zM272,524h1v1h-1zM318,502h1v1h-1zM269,477h1v1h-1zM346,443h1v1h-1zM304,438h1v2h-1zM358,485h1v1h-1zM278,451h1v1h-1zM302,494h1v1h-1zM342,456h2v1h-2zM287,527h1v1h-1zM343,472h2v1h-2zM323,475h1v1h-1zM345,468h1v1h-1zM341,433h1v1h-1zM308,443h1v1h-1zM294,522h1v1h-1zM299,447h1v1h-1zM353,521h1v1h-1zM284,481h1v1h-1zM330,524h2v1h-2zM344,509h1v1h-1zM311,453h1v1h-1zM328,498h1v2h-1zM269,440h2v1h-2zM327,452h1v1h-1zM318,482h1v2h-1zM280,454h1v1h-1zM294,488h1v1h-1zM321,435h1v1h-1zM312,454h1v2h-1zM302,493h2v1h-2zM352,441h1v1h-1zM350,529h2v1h-2zM282,504h1v1h-1zM291,473h1v1h-1zM283,463h2v1h-2zM298,437h1v1h-1zM333,474h1v1h-1zM302,461h1v1h-1zM357,493h2v1h-2zM322,484h2v1h-2zM263,439h1v1h-1zM307,433h1v1h-1zM292,532h1v1h-1zM310,445h1v1h-1zM347,488h1v1h-1zM288,512h1v1h-1zM324,441h2v1h-2zM319,526h1v1h-1zM323,453h1v1h-1zM358,435h1v1h-1zM351,527h1v1h-1zM299,490h1v1h-1zM280,490h1v1h-1zM313,458h1v1h-1zM279,469h1v1h-1zM338,448h1v1h-1zM340,479h1v1h-1zM342,436h1v1h-1zM302,485h1v1h-1zM353,492h1v2h-1zM306,515h1v1h-1zM340,437h2v1h-2zM346,523h2v1h-2zM300,496h1v1h-1zM319,527h1v1h-1zM331,442h1v1h-1zM311,530h1v1h-1zM263,498h1v1h-1zM300,461h1v2h-1zM337,534h1v1h-1zM282,448h1v1h-1zM326,500h1v1h-1zM351,478h1v1h-1zM285,523h2v1h-2zM337,444h2v1h-2zM307,502h1v1h-1zM317,497h1v2h-1zM272,458h2v1h-2zM337,493h1v1h-1zM301,498h1v1h-1zM358,453h1v1h-1zM347,460h1v1h-1zM312,519h2v1h-2zM270,527h1v1h-1zM342,467h1v1h-1zM274,433h1v1h-1zM279,518h1v1h-1zM336,493h2v2h-2zM263,507h2v1h-2zM269,435h1v1h-1zM326,519h1v1h-1zM357,495h1v1h-1zM267,491h1v1h-1zM308,498h2v2h-2zM320,531h1v2h-1zM356,462h1v1h-1zM291,445h1v1h-1zM341,470h1v2h-1zM333,453h1v2h-1zM302,465h2v1h-2zM281,516h1v1h-1zM304,466h2v1h-2zM263,522h2v1h-2zM279,435h1v1h-1zM293,477h1v1h-1zM289,508h1v1h-1zM286,487h1v1h-1zM358,511h1v1h-1zM308,532h1v1h-1zM310,533h1v1h-1zM313,440h1v1h-1zM266,507h1v1h-1zM299,497h2v1h-2zM306,515h1v2h-1zM339,504h1v1h-1zM270,482h1v1h-1zM302,484h1v1h-1zM335,501h1v2h-1zM274,529h1v1h-1zM293,489h1v1h-1zM340,439h1v1h-1zM308,532h1v1h-1zM308,432h1v1h-1zM278,454h1v1h-1zM310,458h1v1h-1zM341,510h1v1h-1zM326,515h2v1h-2zM274,443h1v1h-1zM347,497h1v2h-1zM280,443h1v2h-1zM332,481h2v2h-2zM284,494h1v1h-1zM283,436h1v1h-1zM346,445h1v1h-1zM272,471h1v1h-1zM314,462h1v2h-1zM336,524h1v1h-1zM263,527h1v1h-1zM324,492h2v1h-2zM270,468h1v1h-1zM315,460h2v1h-2zM283,503h2v1h-2zM338,518h1v1h-1zM335,502h1v1h-1zM278,527h1v1h-1zM279,475h1v1h-1zM304,462h1v2h-1zM342,461h1v1h-1zM262,435h2v1h-2zM280,456h1v1h-1zM309,452h1v1h-1zM273,484h2v1h-2zM329,446h1v2h-1zM358,522h1v1h-1zM277,520h1v1h-1zM290,464h2v1h-2zM280,520h1v1h-1zM315,500h1v2h-1zM288,525h1v1h-1zM284,437h1v1h-1zM350,511h1v1h-1zM342,461h2v1h-2zM315,507h1v1h-1zM322,516h1v1h-1zM312,533h1v1h-1zM348,477h2v1h-2zM290,453h1v1h-1zM290,464h2v1h-2zM312,479h1v1h-1zM287,437h1v2h-1zM295,470h1v1h-1zM290,519h1v1h-1zM342,501h2v1h-2zM297,504h1v2h-1zM353,448h2v1h-2zM329,501h2v1h-2zM355,502h1v1h-1zM263,505h1v1h-1zM315,509h1v1h-1zM313,506h1v1h-1zM326,495h1v1h-1zM320,532h1v1h-1zM280,445h1v1h-1zM348,500h2v1h-2zM309,447h1v1h-1zM347,493h1v1h-1zM325,436h1v1h-1zM277,515h1v1h-1zM347,494h1v1h-1zM348,484h1v1h-1zM291,530h1v1h-1zM358,488h1v1h-1zM291,483h1v1h-1zM351,505h1v2h-1zM338,473h1v1h-1zM304,458h1v1h-1zM344,476h1v1h-1zM344,470h1v2h-1zM313,492h1v1h-1zM306,505h1v1h-1zM269,480h2v1h-2zM297,529h1v1h-1zM309,489h1v1h-1zM343,447h2v1h-2zM332,499h2v2h-2zM300,498h1v1h-1zM273,438h1v1h-1zM336,448h1v2h-1zM292,459h1v1h-1zM317,511h1v1h-1zM296,468h2v1h-2zM319,453h1v1h-1zM276,454h2v1h-2zM334,451h1v2h-1zM332,434h1v1h-1zM292,458h1v1h-1zM278,487h1v1h-1zM283,495h1v1h-1zM344,473h1v1h-1zM317,477h1v1h-1zM271,501h2v1h-2zM326,450h1v1h-1zM281,525h1v1h-1zM306,433h1v1h-1zM267,528h1v1h-1zM342,464h1v1h-1zM323,449h1v1h-1zM275,440h2v1h-2zM293,462h1v1h-1zM303,482h1v1h-1zM323,472h1v1h-1zM318,476h1v1h-1zM327,491h1v1h-1zM266,441h2v1h-2zM335,522h2v1h-2zM325,446h1v2h-1zM325,511h2v1h-2zM291,432h2v1h-2zM281,450h1v1h-1zM328,519h1v1h-1zM295,527h2v1h-2zM326,432h1v1h-1zM314,440h2v1h-2zM333,496h1v1h-1zM334,462h1v1h-1zM344,503h1v1h-1zM326,496h1v1h-1zM344,461h2v1h-2zM314,444h1v1h-1zM335,484h1v1h-1zM338,458h2v1h-2zM338,482h1v1h-1zM316,529h1v2h-1zM343,485h1v1h-1zM323,503h2v1h-2zM308,528h1v1h-1zM295,516h1v1h-1zM262,492h1v1h-1zM272,495h1v1h-1zM302,440h1v1h-1zM294,448h1v1h-1zM340,529h1v1h-1zM346,518h1v1h-1zM299,506h1v1h-1zM330,474h1v1h-1zM289,517h1v1h-1zM343,513h1v2h-1zM275,453h1v2h-1zM263,510h1v1h-1zM342,488h2v1h-2zM263,452h1v1h-1zM350,516h1v1h-1zM351,493h2v1h-2zM303,474h1v1h-1zM338,453h1v2h-1zM271,512h1v2h-1zM357,467h1v1h-1zM297,446h2v1h-2zM339,462h1v1h-1zM355,479h1v1h-1zM288,529h1v1h-1zM316,492h1v1h-1zM269,480h2v1h-2zM334,481h1v2h-1zM319,507h1v1h-1zM355,461h1v1h-1zM347,532h2v1h-2zM340,464h1v1h-1zM317,442h1v2h-1zM323,471h2v1h-2zM357,468h1v1h-1zM298,448h1v1h-1zM298,510h1v1h-1zM306,445h1v1h-1zM349,516h1v1h-1zM282,492h1v1h-1zM291,465h2v1h-2zM333,459h1v1h-1zM277,439h1v1h-1zM281,500h1v1h-1zM343,490h1v1h-1zM299,446h2v1h-2zM279,513h1v1h-1zM315,523h1v1h-1zM292,515h1v1h-1zM305,468h1v1h-1zM320,532h1v1h-1zM345,448h1v2h-1zM327,451h1v1h-1zM297,477h1v1h-1zM320,503h2v2h-2zM284,477h2v2h-2zM320,444h1v1h-1zM277,446h1v1h-1zM280,493h1v1h-1zM286,482h2v1h-2zM328,496h1v1h-1zM338,468h1v1h-1zM301,466h1v1h-1zM339,502h2v1h-2zM291,447h1v1h-1zM331,466h1v1h-1zM277,499h1v1h-1zM355,511h2v1h-2zM344,530h1v2h-1zM315,444h1v1h-1zM294,434h1v1h-1zM281,459h2v1h-2zM275,519h1v1h-1zM282,483h1v2h-1zM322,509h1v1h-1zM300,524h1v2h-1zM284,517h1v1h-1zM322,436h1v1h-1zM333,527h1v1h-1zM274,468h1v1h-1zM356,456h1v2h-1zM319,463h1v1h-1zM313,474h1v1h-1zM320,476h1v2h-1zM298,518h2v1h-2zM266,449h1v1h-1zM284,504h1v2h-1zM273,436h1v1h-1zM263,445h1v1h-1zM284,500h1v1h-1zM311,504h1v1h-1zM333,508h1v1h-1zM280,438h2v1h-2zM335,504h1v1h-1zM358,444h1v1h-1zM340,471h1v2h-1zM343,463h1v2h-1zM293,523h1v1h-1zM296,527h1v1h-1zM262,465h2v1h-2zM284,459h1v1h-1zM289,494h1v1h-1zM354,474h1v1h-1zM281,530h1v1h-1zM333,478h1v2h-1zM271,435h1v1h-1zM337,456h1v1h-1zM333,432h1v1h-1zM327,497h1v1h-1zM346,432h1v1h-1zM271,450h1v1h-1zM273,488h1v1h-1zM334,512h2v2h-2zM335,443h2v1h-2zM296,474h2v1h-2zM331,463h1v1h-1zM291,495h1v1h-1zM352,465h1v1h-1zM320,487h2v1h-2zM280,440h2v1h-2zM281,490h1v1h-1zM310,477h1v1h-1zM341,510h1v2h-1zM281,466h1v1h-1zM264,491h1v1h-1zM299,436h2v1h-2zM336,526h2v1h-2zM352,500h2v1h-2zM341,434h1v1h-1zM313,465h2v1h-2zM305,474h2v1h-2zM320,493h1v2h-1zM287,472h1v1h-1zM292,484h1v1h-1zM272,512h1v1h-1zM303,521h1v1h-1zM273,485h1v1h-1zM302,444h2v2h-2zM314,475h1v1h-1zM319,531h1v1h-1zM349,528h1v1h-1zM331,437h1v1h-1zM297,510h1v1h-1zM332,496h1v1h-1zM268,432h1v2h-1zM332,517h1v1h-1zM270,499h1v1h-1zM273,484h1v1h-1zM281,531h1v1h-1zM351,514h1v2h-1zM354,485h1v1h-1zM264,475h1v1h-1zM349,436h1v1h-1zM292,462h1v1h-1zM311,448h1v1h-1zM353,526h2v1h-2zM335,521h1v1h-1zM329,509h1v1h-1zM354,465h1v2h-1zM354,490h1v1h-1zM357,449h1v1h-1zM290,492h2v2h-2zM303,447h1v1h-1zM288,506h1v1h-1zM358,503h1v1h-1zM275,462h1v1h-1zM348,472h2v1h-2zM315,485h1v1h-1zM319,505h1v1h-1zM305,475h1v1h-1zM356,532h1v1h-1zM281,514h1v1h-1zM321,534h1v1h-1zM355,470h2v2h-2zM348,511h1v2h-1zM324,490h1v1h-1zM342,457h1v1h-1zM273,439h1v1h-1zM306,509h2v1h-2zM300,532h1v1h-1zM288,499h1v1h-1zM346,470h1v1h-1zM344,443h1v1h-1zM283,528h1v2h-1zM302,506h1v1h-1zM353,486h1v2h-1zM323,449h1v2h-1zM271,461h1v1h-1zM274,491h2v1h-2zM323,521h2v1h-2zM321,519h1v2h-1zM277,467h1v1h-1zM312,469h1v1h-1zM325,512h1v1h-1zM329,492h1v2h-1zM311,463h1v1h-1zM307,510h1v1h-1zM313,481h1v1h-1zM314,473h1v1h-1zM299,451h1v1h-1zM347,489h1v1h-1zM316,460h1v1h-1zM324,492h2v2h-2zM315,494h1v2h-1zM338,481h1v1h-1zM317,526h1v1h-1zM321,489h1v2h-1z" fill="#40406e" opacity="0.7" filter="url(#blur04)"/></g>
<g clip-path="url(#et2)"><path d="M310,496h2v1h-2zM346,497h1v1h-1zM346,494h1v1h-1zM308,486h1v1h-1zM274,506h1v1h-1zM294,455h1v1h-1zM310,477h1v1h-1zM304,477h1v1h-1zM284,473h1v2h-1zM331,516h2v1h-2zM294,507h1v1h-1zM333,489h2v1h-2zM297,493h1v1h-1zM304,498h1v2h-1zM319,471h1v1h-1zM293,483h1v1h-1zM309,475h1v1h-1zM329,504h1v1h-1zM354,492h1v1h-1zM304,504h1v1h-1zM320,472h1v1h-1zM279,489h1v2h-1zM306,443h2v1h-2zM311,509h2v1h-2zM346,486h1v1h-1zM324,489h1v1h-1zM315,454h1v1h-1zM330,507h1v1h-1zM312,511h1v2h-1zM326,496h1v2h-1zM320,514h1v1h-1zM317,485h1v1h-1zM294,509h1v2h-1zM293,444h1v2h-1zM325,455h1v1h-1zM346,506h1v1h-1zM333,490h1v1h-1zM312,490h1v1h-1zM324,493h1v1h-1zM306,472h1v1h-1zM293,463h1v1h-1zM346,481h1v1h-1zM327,489h1v2h-1zM320,487h1v1h-1zM337,510h1v1h-1zM306,520h1v2h-1zM335,454h1v1h-1zM321,448h1v1h-1zM294,453h1v1h-1zM335,440h1v1h-1zM293,479h1v1h-1zM324,451h1v2h-1zM298,466h2v1h-2zM341,475h1v1h-1zM319,500h1v1h-1zM277,440h1v1h-1zM337,468h2v1h-2zM324,470h1v2h-1zM317,450h1v1h-1zM323,458h2v1h-2zM275,493h1v2h-1zM351,488h1v2h-1zM347,524h1v2h-1zM331,476h1v1h-1zM315,469h2v1h-2zM269,505h1v1h-1zM317,505h1v1h-1zM302,513h1v1h-1zM338,468h1v2h-1zM268,452h1v1h-1zM327,494h1v1h-1zM348,447h1v1h-1zM319,466h1v1h-1zM307,472h1v1h-1zM304,451h1v1h-1zM324,476h1v1h-1zM328,485h1v1h-1zM338,492h1v1h-1zM277,479h1v1h-1zM288,475h1v2h-1zM264,474h1v1h-1zM331,470h1v1h-1zM295,496h1v1h-1zM304,456h1v2h-1zM313,496h1v2h-1zM302,461h1v1h-1zM335,478h1v1h-1zM329,471h2v1h-2zM332,507h1v1h-1zM308,498h1v1h-1zM316,477h1v1h-1zM312,484h1v1h-1zM295,458h1v1h-1zM329,480h1v1h-1zM315,497h1v2h-1zM325,462h1v1h-1zM347,464h2v1h-2zM325,487h2v1h-2zM308,487h1v2h-1zM334,493h1v1h-1zM294,489h1v1h-1zM335,472h1v1h-1zM298,479h1v1h-1zM316,500h1v2h-1zM302,526h1v1h-1zM301,482h1v1h-1zM324,482h1v2h-1zM298,480h1v1h-1zM296,448h2v1h-2zM265,465h1v1h-1zM290,526h2v2h-2zM300,460h1v1h-1zM319,478h2v2h-2zM337,462h1v1h-1zM304,458h1v2h-1zM352,475h2v1h-2zM333,487h1v1h-1zM342,483h1v1h-1zM314,489h1v1h-1zM316,483h1v1h-1zM287,487h1v1h-1zM314,482h1v1h-1zM338,511h1v1h-1zM306,520h1v1h-1zM348,531h1v1h-1zM321,437h1v1h-1zM309,520h1v1h-1zM336,442h1v2h-1zM281,501h1v1h-1zM354,457h1v1h-1zM333,449h2v2h-2zM353,471h1v1h-1zM353,492h1v1h-1zM334,451h2v1h-2zM289,452h1v1h-1zM317,449h1v1h-1zM312,473h2v1h-2zM317,493h1v1h-1zM315,463h2v2h-2zM347,477h1v1h-1zM278,488h1v1h-1zM305,468h1v1h-1zM298,517h2v1h-2zM307,472h1v1h-1zM332,493h1v1h-1zM312,460h1v1h-1zM296,475h1v1h-1zM346,485h1v1h-1zM343,481h1v1h-1zM304,474h1v1h-1zM330,478h2v1h-2zM315,495h1v1h-1zM264,483h1v1h-1zM306,456h2v1h-2zM295,496h1v1h-1zM324,470h1v2h-1zM317,492h1v1h-1zM315,491h2v1h-2zM307,470h1v1h-1zM300,481h1v1h-1zM353,448h2v1h-2zM278,468h1v2h-1zM287,503h1v2h-1zM337,458h1v1h-1zM330,507h1v1h-1zM315,528h2v1h-2zM301,493h1v1h-1zM311,470h2v1h-2zM344,497h1v1h-1zM345,481h1v1h-1zM321,493h1v1h-1zM333,493h1v1h-1zM319,487h1v1h-1zM290,500h1v1h-1zM312,491h1v1h-1zM330,479h1v1h-1zM281,441h1v1h-1zM314,503h1v2h-1zM348,436h1v1h-1zM357,491h1v1h-1zM307,483h1v1h-1zM336,478h1v1h-1zM335,510h2v1h-2zM356,466h2v1h-2zM356,507h1v1h-1zM303,463h1v2h-1zM317,522h2v1h-2zM335,496h1v1h-1zM303,495h1v1h-1zM339,484h1v1h-1zM353,472h1v1h-1zM285,476h1v1h-1zM311,459h1v1h-1z" fill="#3a3a90" opacity="0.6" filter="url(#blur04)"/></g>
<g clip-path="url(#et3)">
<rect x="369.5" y="432" width="8" height="103" fill="#eeeef0"/><rect x="473.5" y="432" width="10.5" height="103" fill="#c8c8d6"/>
<path d="M429,446 L448,458 L470,466 L458,488 L474,518 L444,506 L432,535 L416,506 L384,524 L400,490 L386,468 L410,458 Z" fill="#b0b0b8" filter="url(#rough4)"/>
<path d="M399,447 L416,464 M454,441 L442,462 M384,524 L410,500 M474,516 L450,500 M430,505 L430,535" stroke="#8c8c94" stroke-width="3.6" filter="url(#rough2)"/>
<path d="M430,455 L440,462 L452,466 L452,478 L458,488 L446,494 L442,506 L430,502 L418,506 L412,494 L402,488 L408,476 L406,464 L420,462 Z" fill="#46464e" filter="url(#rough3)"/>
<path d="M428,466 L438,470 L444,482 L438,494 L426,496 L416,488 L414,476 Z" fill="#303036" filter="url(#rough2)"/>
<path d="M440,486 L452,478" stroke="#b8b8c0" stroke-width="1.2" opacity="0.8"/>
<ellipse cx="429.3" cy="462" rx="5.5" ry="6.5" fill="#3a50c0" filter="url(#rough1)"/>
</g>
<g clip-path="url(#et3)"><path d="M395,531h1v1h-1zM450,441h1v1h-1zM393,498h1v1h-1zM421,483h1v1h-1zM380,456h1v2h-1zM400,474h1v2h-1zM383,459h1v1h-1zM441,471h2v1h-2zM408,503h1v2h-1zM429,453h1v1h-1zM377,529h1v2h-1zM392,529h1v1h-1zM453,523h1v1h-1zM410,522h1v1h-1zM457,442h2v1h-2zM450,530h1v1h-1zM441,464h1v1h-1zM402,500h1v2h-1zM432,467h1v1h-1zM409,459h1v1h-1zM413,518h1v1h-1zM445,444h2v1h-2zM393,511h1v1h-1zM371,511h1v1h-1zM435,525h1v1h-1zM434,474h1v1h-1zM378,506h1v1h-1zM445,511h1v1h-1zM387,528h1v2h-1zM387,494h1v1h-1zM474,467h2v1h-2zM383,463h1v1h-1zM370,518h1v1h-1zM470,435h1v1h-1zM390,532h1v1h-1zM379,494h1v1h-1zM460,471h1v1h-1zM452,499h2v1h-2zM428,441h1v1h-1zM415,469h1v1h-1zM392,478h1v1h-1zM453,505h1v1h-1zM445,517h1v1h-1zM482,509h1v1h-1zM463,491h1v1h-1zM407,472h1v2h-1zM392,462h1v1h-1zM455,528h1v1h-1zM442,440h1v2h-1zM412,529h1v1h-1zM404,518h1v1h-1zM444,443h1v1h-1zM413,492h1v1h-1zM403,495h2v1h-2zM477,507h2v1h-2zM436,501h1v1h-1zM464,484h1v1h-1zM388,483h1v1h-1zM459,496h1v1h-1zM401,517h1v1h-1zM397,457h1v1h-1zM455,458h1v1h-1zM465,470h1v1h-1zM414,499h1v1h-1zM475,513h1v1h-1zM439,503h1v1h-1zM422,521h1v1h-1zM380,495h2v1h-2zM406,436h1v1h-1zM444,470h1v1h-1zM452,494h1v1h-1zM403,469h1v1h-1zM429,444h2v1h-2zM409,448h1v1h-1zM387,507h1v1h-1zM431,440h1v1h-1zM455,443h1v1h-1zM433,508h1v1h-1zM443,462h1v2h-1zM427,443h2v1h-2zM385,466h1v1h-1zM389,510h1v2h-1zM471,492h1v1h-1zM417,528h1v2h-1zM472,527h2v1h-2zM482,482h1v2h-1zM466,486h1v1h-1zM447,481h1v1h-1zM427,532h1v1h-1zM403,454h1v1h-1zM457,517h2v1h-2zM384,473h1v1h-1zM428,462h1v2h-1zM465,433h1v1h-1zM436,445h1v1h-1zM442,531h1v1h-1zM438,500h1v1h-1zM478,499h1v1h-1zM443,481h1v1h-1zM476,510h1v1h-1zM455,501h2v1h-2zM476,500h2v1h-2zM376,531h1v1h-1zM425,481h1v1h-1zM385,459h1v1h-1zM454,492h1v1h-1zM466,462h1v1h-1zM445,441h2v1h-2zM409,492h2v1h-2zM411,494h1v1h-1zM423,472h1v1h-1zM451,450h1v1h-1zM464,441h2v1h-2zM394,498h1v1h-1zM479,433h1v2h-1zM464,465h1v1h-1zM454,508h1v1h-1zM443,433h1v1h-1zM406,442h1v1h-1zM469,502h1v1h-1zM393,526h2v1h-2zM473,476h1v1h-1zM386,505h2v2h-2zM409,494h2v1h-2zM398,503h1v1h-1zM402,511h1v2h-1zM388,438h2v1h-2zM400,486h1v1h-1zM416,453h2v2h-2zM450,451h2v1h-2zM387,517h1v2h-1zM473,477h1v1h-1zM448,526h1v1h-1zM440,496h1v1h-1zM395,514h1v1h-1zM433,529h1v2h-1zM447,527h1v2h-1zM384,512h1v1h-1zM407,491h2v1h-2zM452,473h1v1h-1zM415,511h1v1h-1zM414,520h2v1h-2zM417,433h1v1h-1zM452,521h1v1h-1zM456,529h1v2h-1zM427,470h1v1h-1zM381,450h1v1h-1zM401,488h1v1h-1zM442,440h1v1h-1zM414,464h1v1h-1zM388,483h1v2h-1zM477,524h1v1h-1zM465,492h1v1h-1zM482,513h1v1h-1zM457,499h1v1h-1zM424,515h1v1h-1zM435,495h2v1h-2zM474,508h1v1h-1zM479,496h1v1h-1zM390,448h1v1h-1zM430,502h1v1h-1zM378,457h2v2h-2zM424,461h1v1h-1zM432,499h2v1h-2zM377,473h1v1h-1zM390,506h1v1h-1zM397,452h1v1h-1zM373,468h1v1h-1zM429,491h1v1h-1zM420,470h1v1h-1zM382,522h1v1h-1zM421,503h1v1h-1zM410,472h1v2h-1zM429,503h1v1h-1zM459,480h2v2h-2zM417,445h1v2h-1zM390,478h1v1h-1zM434,501h1v1h-1zM479,432h1v1h-1zM379,449h1v1h-1zM465,475h2v1h-2zM385,471h1v1h-1zM382,448h1v1h-1zM443,483h1v1h-1zM380,505h1v1h-1zM420,483h1v1h-1zM453,464h1v1h-1zM447,434h1v1h-1zM444,476h2v1h-2zM374,497h1v1h-1zM432,529h1v1h-1zM371,506h1v1h-1zM385,516h1v1h-1zM461,500h1v1h-1zM397,522h2v1h-2zM428,461h2v1h-2zM373,434h1v1h-1zM386,460h1v1h-1zM471,485h1v1h-1zM468,465h2v2h-2zM449,448h2v1h-2zM453,434h1v1h-1zM439,534h1v1h-1zM404,488h1v1h-1zM386,436h1v1h-1zM385,460h2v2h-2zM399,533h2v1h-2zM451,502h1v1h-1zM420,495h1v1h-1zM471,497h1v1h-1zM464,487h1v2h-1zM370,462h1v1h-1zM401,432h1v2h-1zM416,524h2v2h-2zM436,453h1v2h-1zM370,515h1v1h-1zM471,518h1v2h-1zM395,471h1v1h-1zM426,510h1v2h-1zM477,485h1v1h-1zM466,513h1v1h-1zM406,523h1v1h-1zM413,501h1v2h-1zM392,456h1v1h-1zM417,457h1v1h-1zM461,433h1v1h-1zM417,487h1v1h-1zM376,496h1v1h-1zM411,449h2v1h-2zM456,452h1v2h-1zM444,491h1v1h-1zM475,442h2v1h-2zM403,448h1v1h-1zM411,442h2v1h-2zM430,512h2v1h-2zM454,500h1v2h-1zM451,498h1v1h-1zM410,460h2v1h-2zM376,498h2v1h-2zM456,433h1v1h-1zM483,474h2v1h-2zM411,501h1v1h-1zM474,474h1v1h-1zM377,455h1v2h-1zM430,438h1v1h-1zM405,465h1v1h-1zM376,433h1v2h-1zM392,488h1v1h-1zM440,493h1v1h-1zM426,505h2v1h-2zM461,489h1v1h-1zM433,468h1v1h-1zM427,464h1v1h-1zM397,439h1v1h-1zM375,444h1v1h-1zM469,507h2v1h-2zM385,510h1v2h-1zM452,468h1v1h-1zM425,482h1v1h-1zM409,466h1v1h-1zM423,432h1v1h-1zM400,497h1v1h-1zM461,435h1v1h-1zM439,454h1v1h-1zM403,441h1v1h-1zM404,448h1v1h-1zM410,459h1v1h-1zM459,435h2v1h-2zM372,531h2v1h-2zM433,491h1v1h-1zM381,527h1v1h-1zM471,450h1v1h-1zM448,464h1v1h-1zM448,448h1v2h-1zM422,518h1v2h-1zM421,477h1v1h-1zM378,498h1v1h-1zM407,475h1v1h-1zM370,491h1v2h-1zM463,507h1v1h-1zM400,485h1v1h-1zM406,465h1v1h-1zM371,507h1v1h-1zM391,464h1v1h-1zM423,492h1v1h-1zM420,534h1v2h-1zM392,490h1v1h-1zM404,507h1v1h-1zM434,503h1v1h-1zM457,516h1v1h-1zM440,511h1v1h-1zM383,460h2v1h-2zM445,530h1v1h-1zM448,530h1v1h-1zM404,453h1v1h-1zM417,515h1v1h-1zM422,440h1v1h-1zM441,511h1v1h-1zM406,466h2v1h-2zM385,530h2v2h-2zM474,449h1v1h-1zM406,480h1v1h-1zM452,468h1v1h-1zM426,497h2v1h-2zM442,515h1v1h-1zM459,468h1v1h-1zM408,453h1v1h-1zM407,449h1v1h-1zM449,511h1v1h-1zM395,505h1v1h-1zM438,465h1v1h-1zM383,485h1v1h-1zM454,476h2v1h-2zM394,502h1v1h-1zM389,444h1v1h-1zM476,520h2v1h-2zM374,483h1v1h-1zM435,433h1v1h-1zM439,532h1v1h-1zM425,474h1v1h-1zM409,517h1v1h-1zM410,531h1v1h-1zM431,438h1v1h-1zM415,456h1v1h-1zM430,508h1v1h-1zM480,487h1v1h-1zM438,439h1v1h-1zM422,470h2v1h-2zM458,458h1v1h-1zM443,517h1v1h-1zM398,449h1v1h-1zM390,525h1v1h-1zM448,454h1v1h-1zM482,455h2v1h-2zM480,508h1v1h-1zM456,471h1v1h-1zM442,527h1v1h-1zM443,483h2v2h-2zM450,515h1v1h-1zM431,529h1v1h-1zM370,464h1v1h-1zM423,471h2v2h-2zM398,478h1v1h-1zM390,473h1v1h-1zM387,448h1v1h-1zM462,520h2v1h-2zM434,435h1v1h-1zM428,508h1v1h-1zM421,464h1v2h-1zM419,470h1v1h-1zM471,432h2v1h-2zM399,509h1v1h-1zM430,504h2v1h-2zM462,508h2v1h-2zM396,502h1v1h-1zM416,488h1v1h-1zM451,440h1v1h-1zM424,438h1v1h-1zM437,525h1v1h-1zM430,448h1v1h-1zM481,435h1v1h-1zM407,480h1v2h-1zM401,470h1v1h-1zM434,451h1v1h-1zM470,504h1v2h-1zM394,503h1v2h-1zM387,516h1v1h-1zM437,439h1v1h-1zM394,457h1v1h-1zM409,441h1v1h-1zM439,439h1v1h-1zM403,444h1v1h-1zM469,533h1v1h-1zM412,491h1v1h-1zM443,503h2v1h-2zM382,490h1v1h-1zM391,439h1v2h-1zM427,512h1v1h-1zM386,441h1v2h-1zM448,491h1v1h-1zM471,488h1v1h-1zM438,519h1v1h-1zM430,512h1v1h-1zM453,475h1v2h-1zM401,502h1v1h-1zM462,500h1v1h-1zM373,484h1v2h-1zM445,457h1v1h-1zM387,473h1v1h-1zM445,526h1v1h-1zM479,529h1v2h-1zM379,488h1v1h-1zM381,461h1v1h-1zM428,529h2v1h-2zM376,521h2v2h-2zM397,472h1v1h-1zM458,482h1v1h-1zM468,479h1v1h-1zM468,529h2v1h-2zM438,436h1v1h-1zM477,455h2v2h-2zM393,516h1v1h-1zM398,494h1v1h-1zM412,459h1v1h-1zM386,454h1v1h-1zM380,494h1v1h-1zM408,494h1v1h-1zM455,480h2v1h-2zM464,527h1v1h-1zM400,468h1v1h-1zM473,504h2v1h-2zM379,471h1v2h-1zM418,469h1v1h-1zM477,432h1v1h-1zM453,454h1v2h-1zM380,521h1v1h-1zM390,453h1v1h-1zM423,465h1v1h-1zM379,489h1v1h-1zM417,449h1v1h-1zM457,464h1v1h-1zM409,455h1v1h-1zM379,487h1v2h-1zM424,501h1v1h-1zM449,506h1v1h-1zM476,511h2v1h-2zM451,511h2v1h-2zM434,505h1v1h-1zM467,455h2v1h-2zM481,445h1v1h-1zM412,507h1v1h-1zM415,525h1v2h-1zM395,435h2v1h-2zM434,489h1v1h-1zM410,500h1v1h-1zM427,457h1v1h-1zM421,455h1v1h-1zM481,492h1v1h-1zM382,439h1v1h-1zM473,435h2v1h-2zM436,460h2v1h-2zM465,462h1v1h-1zM380,527h1v1h-1zM480,502h1v1h-1zM460,475h1v1h-1zM481,433h2v2h-2zM467,485h1v1h-1zM418,460h1v1h-1zM455,502h1v1h-1zM387,532h1v1h-1zM456,488h1v1h-1zM436,523h1v1h-1zM434,437h2v1h-2zM400,438h1v1h-1zM380,490h2v2h-2zM425,522h1v1h-1zM390,499h1v1h-1zM387,500h1v2h-1zM377,505h1v1h-1zM469,473h1v2h-1zM480,435h2v1h-2zM374,436h1v1h-1zM401,531h1v1h-1zM401,485h1v1h-1zM371,522h1v2h-1zM452,518h1v2h-1zM412,432h1v1h-1zM445,483h2v1h-2zM459,529h1v1h-1zM434,506h1v1h-1zM402,487h1v1h-1zM444,485h1v2h-1zM468,521h1v1h-1zM420,493h1v1h-1zM445,474h1v1h-1zM455,442h1v1h-1zM400,457h1v1h-1zM384,508h2v1h-2zM400,519h1v1h-1zM371,432h1v1h-1zM468,488h1v1h-1zM431,458h1v1h-1zM469,451h2v1h-2zM384,437h1v1h-1zM413,444h2v1h-2zM419,483h1v1h-1zM478,524h1v1h-1zM415,459h1v1h-1zM406,480h1v1h-1zM411,495h1v1h-1zM469,479h1v1h-1zM385,488h1v2h-1zM376,474h1v1h-1zM474,512h2v1h-2zM457,483h2v1h-2zM463,509h2v1h-2zM404,495h1v1h-1zM472,447h1v1h-1zM445,515h1v1h-1zM399,515h1v1h-1zM373,446h1v1h-1zM479,499h1v1h-1zM403,455h1v1h-1zM437,493h1v1h-1zM423,525h2v1h-2zM453,513h1v1h-1zM411,485h1v1h-1zM415,455h1v1h-1zM387,526h1v1h-1zM471,465h1v1h-1zM401,461h1v1h-1zM429,522h1v1h-1zM442,496h1v1h-1zM421,490h1v1h-1zM452,498h1v1h-1zM422,474h1v1h-1zM374,469h2v1h-2zM371,524h1v2h-1zM438,484h1v1h-1zM434,477h1v1h-1zM410,483h2v1h-2zM377,500h1v1h-1zM434,493h1v1h-1zM389,477h1v1h-1zM466,509h1v1h-1zM480,509h2v1h-2zM439,451h2v1h-2zM387,457h1v1h-1zM426,469h2v1h-2zM425,476h1v2h-1zM413,433h1v2h-1zM443,482h1v1h-1zM446,509h1v1h-1zM458,506h1v1h-1zM378,513h1v1h-1zM431,472h2v1h-2zM409,515h1v1h-1zM453,516h1v2h-1zM427,455h1v1h-1zM396,487h1v1h-1zM443,533h1v1h-1zM465,465h1v2h-1zM434,442h1v1h-1zM473,482h1v2h-1zM424,507h1v1h-1zM387,458h2v1h-2zM374,432h2v1h-2zM460,460h2v1h-2zM444,467h1v1h-1zM423,461h2v1h-2zM419,513h1v1h-1z" fill="#44445e" opacity="0.65" filter="url(#blur04)"/></g>
<g clip-path="url(#et3)"><path d="M403,488h1v1h-1zM431,480h1v1h-1zM438,476h1v1h-1zM415,442h1v2h-1zM414,489h1v1h-1zM467,521h1v1h-1zM433,457h2v1h-2zM446,473h1v2h-1zM409,496h1v1h-1zM428,479h1v1h-1zM472,451h1v1h-1zM433,524h1v1h-1zM477,483h1v1h-1zM400,530h1v1h-1zM458,467h1v1h-1zM411,478h1v1h-1zM446,523h2v1h-2zM470,531h2v1h-2zM463,493h1v1h-1zM428,440h1v1h-1zM461,510h1v1h-1zM423,477h1v2h-1zM393,477h2v1h-2zM438,473h1v1h-1zM402,490h1v2h-1zM479,487h1v1h-1zM411,489h1v1h-1zM424,492h2v1h-2zM468,509h1v1h-1zM439,436h1v1h-1zM424,463h2v1h-2zM411,491h1v1h-1zM390,519h1v1h-1zM421,468h1v1h-1zM467,479h1v1h-1zM447,489h1v1h-1zM373,438h1v1h-1zM452,508h1v1h-1zM429,460h1v1h-1zM415,489h1v1h-1zM386,457h2v2h-2zM423,517h1v1h-1zM392,530h1v1h-1zM464,516h1v1h-1zM433,464h1v1h-1zM443,508h1v1h-1zM416,492h1v1h-1zM462,471h2v1h-2zM397,465h1v1h-1zM417,512h2v1h-2zM455,458h1v1h-1zM422,441h1v1h-1zM419,455h1v2h-1zM423,443h1v1h-1zM430,511h1v2h-1zM400,468h1v1h-1zM421,474h1v2h-1zM398,501h1v1h-1zM475,491h1v1h-1zM468,489h1v1h-1zM386,488h1v1h-1zM450,494h1v1h-1zM482,478h1v1h-1zM414,457h1v1h-1zM442,480h1v1h-1zM465,499h1v1h-1zM434,485h2v1h-2zM446,532h1v1h-1zM477,484h2v1h-2zM450,484h1v1h-1zM462,474h1v1h-1zM455,464h1v1h-1zM457,456h2v1h-2zM434,487h1v1h-1zM481,460h1v1h-1zM459,487h1v1h-1zM413,512h1v1h-1zM435,502h1v1h-1zM401,460h1v1h-1zM440,506h1v1h-1zM446,511h1v1h-1zM419,445h1v2h-1zM466,474h2v2h-2zM397,509h1v1h-1zM464,486h1v1h-1zM446,465h1v1h-1zM465,506h1v1h-1zM435,500h1v1h-1zM450,495h2v1h-2zM380,479h1v2h-1zM444,460h1v1h-1zM452,459h1v1h-1zM447,476h1v1h-1zM445,515h1v1h-1zM440,502h1v1h-1zM373,489h2v1h-2zM468,458h1v1h-1zM448,504h2v1h-2zM436,495h2v1h-2zM429,474h1v1h-1zM447,485h2v1h-2zM405,489h2v1h-2zM449,502h1v1h-1zM448,453h1v1h-1zM422,452h1v1h-1zM439,458h1v1h-1zM380,433h1v1h-1zM452,494h1v1h-1zM447,479h1v1h-1zM461,469h2v1h-2zM446,479h1v2h-1zM451,455h1v2h-1zM440,464h1v1h-1zM427,489h1v1h-1zM446,486h1v1h-1zM419,446h1v1h-1zM394,512h1v1h-1zM433,476h1v1h-1zM422,511h1v2h-1zM421,473h1v1h-1zM427,507h1v1h-1zM448,484h1v2h-1zM405,478h1v1h-1zM441,469h2v1h-2zM428,504h1v1h-1zM415,459h1v1h-1zM453,474h1v1h-1zM423,480h2v1h-2zM445,491h1v2h-1zM405,491h2v1h-2zM453,497h1v1h-1zM463,494h1v1h-1zM444,462h2v1h-2zM450,467h1v1h-1zM435,478h1v1h-1zM425,503h1v1h-1zM387,502h1v1h-1zM447,447h1v1h-1zM427,510h1v1h-1zM384,480h1v2h-1zM462,510h1v1h-1zM405,483h1v1h-1zM428,499h1v1h-1zM432,488h1v2h-1zM443,483h1v1h-1zM441,516h1v1h-1zM452,532h1v1h-1zM421,470h2v1h-2zM443,471h1v1h-1zM411,458h1v2h-1zM373,480h1v1h-1zM386,474h1v1h-1zM388,507h2v1h-2zM458,495h1v1h-1zM400,484h1v1h-1zM425,480h1v1h-1zM426,472h1v2h-1zM426,515h1v1h-1zM443,463h2v1h-2zM481,439h1v1h-1zM431,467h1v2h-1zM422,460h1v1h-1zM450,473h1v1h-1zM427,528h1v1h-1zM433,473h1v1h-1zM380,496h1v1h-1zM448,487h2v1h-2zM419,477h2v1h-2zM434,454h1v1h-1zM440,464h1v1h-1zM432,434h1v2h-1zM415,495h2v2h-2zM475,475h1v1h-1zM401,476h2v2h-2zM426,501h2v1h-2zM426,466h1v1h-1zM417,474h1v1h-1zM388,454h1v1h-1zM380,468h1v1h-1zM403,523h1v1h-1zM440,477h1v1h-1zM409,504h1v2h-1zM435,510h2v1h-2zM414,468h1v1h-1zM435,490h1v1h-1zM407,465h1v1h-1zM430,497h1v2h-1zM415,449h2v1h-2zM460,512h2v1h-2zM402,466h1v1h-1zM421,519h1v1h-1zM407,485h1v1h-1zM392,467h2v1h-2zM478,482h1v2h-1zM450,515h1v1h-1zM442,519h2v1h-2zM446,523h2v1h-2zM428,477h2v2h-2zM472,496h1v1h-1zM443,447h1v1h-1zM432,493h1v1h-1zM480,493h1v2h-1zM409,473h1v1h-1zM437,450h1v2h-1zM429,491h1v2h-1zM443,489h1v2h-1zM451,484h1v1h-1zM445,513h1v1h-1zM422,459h1v1h-1zM434,496h2v1h-2zM416,452h1v2h-1zM399,462h1v1h-1zM407,486h1v1h-1zM415,476h1v1h-1zM450,498h1v1h-1zM417,485h1v1h-1zM454,492h1v1h-1zM436,471h1v1h-1zM371,515h1v1h-1zM422,507h1v1h-1zM418,496h1v1h-1zM400,530h1v1h-1zM458,480h1v2h-1zM458,455h2v1h-2zM448,520h1v1h-1zM437,485h1v1h-1zM431,502h1v1h-1zM432,494h1v2h-1zM405,497h1v1h-1zM423,501h2v1h-2zM448,462h1v1h-1zM405,493h1v1h-1zM425,446h2v1h-2zM447,484h1v1h-1zM474,481h1v2h-1zM456,492h2v2h-2zM447,478h1v1h-1zM430,516h1v1h-1zM439,479h1v1h-1zM416,513h1v1h-1z" fill="#3a3a88" opacity="0.55" filter="url(#blur04)"/></g>
<g clip-path="url(#et3)"><path d="M479,476h1v1h-1zM476,516h1v2h-1zM482,436h1v1h-1zM474,530h2v1h-2zM474,521h1v1h-1zM478,461h2v1h-2zM478,503h2v1h-2zM475,511h1v1h-1zM480,437h1v1h-1zM475,529h1v1h-1zM477,525h1v2h-1zM479,477h1v2h-1zM480,519h1v1h-1zM474,463h1v2h-1zM474,527h1v1h-1zM478,529h1v1h-1zM475,512h1v1h-1zM475,515h1v1h-1zM481,447h1v1h-1zM483,460h1v1h-1zM480,529h1v1h-1zM479,468h1v1h-1zM474,505h1v1h-1zM476,459h1v1h-1zM475,527h1v2h-1zM483,508h1v1h-1zM479,483h1v1h-1zM481,524h1v1h-1zM479,468h1v1h-1zM481,490h1v1h-1zM482,522h1v1h-1zM474,468h1v1h-1zM480,518h1v1h-1zM478,477h1v1h-1zM477,459h2v1h-2zM478,499h1v1h-1zM481,465h1v2h-1zM476,525h1v2h-1zM479,515h1v1h-1zM482,457h1v1h-1zM474,526h1v1h-1zM475,481h1v1h-1zM478,513h1v1h-1zM474,452h1v1h-1zM481,464h1v2h-1zM481,517h2v1h-2zM478,509h1v1h-1zM480,444h2v1h-2zM476,495h1v2h-1zM476,512h1v1h-1zM477,469h1v1h-1zM480,461h2v1h-2zM479,484h1v1h-1zM478,467h2v1h-2zM479,478h1v1h-1zM479,503h2v1h-2zM482,474h1v1h-1zM474,519h1v1h-1zM480,499h1v2h-1zM478,471h1v1h-1zM476,464h1v1h-1zM476,509h1v1h-1zM479,533h1v1h-1zM478,467h1v1h-1zM479,515h1v1h-1zM480,492h1v1h-1zM477,528h1v1h-1zM480,512h1v1h-1zM482,468h1v1h-1zM481,487h1v1h-1zM478,492h1v1h-1zM475,521h2v1h-2zM480,506h1v1h-1zM477,476h1v1h-1zM479,472h1v1h-1zM480,436h1v2h-1zM480,491h1v1h-1zM477,437h1v1h-1zM477,530h1v1h-1zM475,498h1v1h-1zM477,520h1v1h-1zM482,440h1v1h-1zM475,474h1v1h-1zM483,450h1v1h-1zM481,448h2v2h-2zM478,442h1v1h-1zM475,506h1v2h-1zM477,499h1v1h-1zM482,486h1v1h-1zM476,462h2v1h-2zM476,485h1v1h-1zM480,473h1v1h-1zM477,532h1v1h-1zM483,487h1v1h-1zM482,434h1v1h-1zM482,450h1v1h-1zM477,481h1v1h-1zM476,462h1v1h-1zM479,493h1v1h-1zM475,445h1v2h-1zM482,533h1v2h-1zM478,434h1v2h-1zM480,496h1v1h-1zM475,504h1v1h-1zM478,451h1v2h-1zM478,530h2v1h-2zM480,446h1v1h-1zM474,433h1v1h-1zM482,487h1v2h-1zM480,466h1v1h-1zM476,528h1v1h-1zM483,447h1v2h-1zM474,438h1v1h-1zM474,447h2v1h-2zM475,435h1v2h-1zM481,481h1v1h-1zM475,496h1v1h-1zM480,478h2v1h-2zM477,501h1v1h-1zM479,472h1v2h-1zM476,454h1v1h-1zM480,490h1v1h-1zM475,498h1v2h-1zM478,501h1v1h-1zM474,495h1v2h-1zM481,445h1v1h-1zM478,500h1v2h-1zM481,441h1v1h-1zM482,476h1v2h-1zM475,497h1v2h-1zM479,502h2v1h-2zM481,518h1v1h-1zM480,503h2v1h-2zM482,452h1v1h-1zM481,448h1v1h-1zM479,439h1v1h-1zM474,530h1v1h-1zM475,450h1v2h-1zM476,466h1v1h-1zM475,482h1v1h-1zM474,501h1v2h-1zM483,437h2v1h-2zM478,522h1v1h-1zM478,442h1v1h-1zM483,440h1v1h-1zM474,433h2v1h-2zM476,482h1v1h-1zM482,516h1v1h-1zM478,479h1v2h-1zM479,475h1v2h-1zM475,449h1v1h-1zM480,474h2v1h-2zM474,488h2v2h-2zM482,463h1v1h-1zM477,449h1v1h-1zM479,518h1v1h-1zM477,511h1v1h-1zM478,436h1v1h-1zM474,502h1v1h-1zM474,497h1v1h-1zM474,458h1v2h-1zM481,524h1v1h-1zM481,528h1v1h-1zM477,476h2v1h-2zM480,462h1v1h-1zM479,506h1v1h-1zM481,481h1v1h-1zM480,489h1v1h-1zM476,534h1v1h-1zM481,436h2v1h-2z" fill="#3a3a88" opacity="0.6" filter="url(#blur04)"/></g>
<text x="78.6" y="431" font-family="Liberation Sans, sans-serif" font-size="11" font-weight="bold" fill="#111" text-anchor="middle">Dasatinib and ESKM</text>
<text x="78.6" y="443.8" font-family="Liberation Sans, sans-serif" font-size="11" font-weight="bold" fill="#111" text-anchor="middle">Mouse 1</text>
<text x="194.85000000000002" y="431" font-family="Liberation Sans, sans-serif" font-size="11" font-weight="bold" fill="#111" text-anchor="middle">Dasatinib and ESKM</text>
<text x="194.85000000000002" y="443.8" font-family="Liberation Sans, sans-serif" font-size="11" font-weight="bold" fill="#111" text-anchor="middle">Mouse 3</text>
<text x="310.85" y="431" font-family="Liberation Sans, sans-serif" font-size="11" font-weight="bold" fill="#111" text-anchor="middle">Dasatinib and ESKM</text>
<text x="310.85" y="443.8" font-family="Liberation Sans, sans-serif" font-size="11" font-weight="bold" fill="#111" text-anchor="middle">Mouse 4</text>
<text x="426.75" y="431" font-family="Liberation Sans, sans-serif" font-size="11" font-weight="bold" fill="#111" text-anchor="middle">Dasatinib and ESKM</text>
<text x="426.75" y="443.8" font-family="Liberation Sans, sans-serif" font-size="11" font-weight="bold" fill="#111" text-anchor="middle">Mouse 5</text>
<rect x="491.1" y="426.5" width="4.6" height="79.5" fill="url(#cbar)"/>
<rect x="491" y="518" width="23" height="13.7" fill="#fff" stroke="#666" stroke-width="0.6"/><path d="M493,521.5h12M493,525h14M493,528.5h14" stroke="#aaa" stroke-width="0.8"/>
<text x="497.3" y="433.2" font-family="Liberation Sans, sans-serif" font-size="3.2" fill="#555">7</text>
<line x1="495.6" y1="432.2" x2="496.8" y2="432.2" stroke="#777" stroke-width="0.4"/>
<text x="497.3" y="444.5" font-family="Liberation Sans, sans-serif" font-size="3.2" fill="#555">6</text>
<line x1="495.6" y1="443.5" x2="496.8" y2="443.5" stroke="#777" stroke-width="0.4"/>
<text x="497.3" y="455.9" font-family="Liberation Sans, sans-serif" font-size="3.2" fill="#555">5</text>
<line x1="495.6" y1="454.9" x2="496.8" y2="454.9" stroke="#777" stroke-width="0.4"/>
<text x="497.3" y="467.2" font-family="Liberation Sans, sans-serif" font-size="3.2" fill="#555">4</text>
<line x1="495.6" y1="466.2" x2="496.8" y2="466.2" stroke="#777" stroke-width="0.4"/>
<text x="497.3" y="478.6" font-family="Liberation Sans, sans-serif" font-size="3.2" fill="#555">3</text>
<line x1="495.6" y1="477.6" x2="496.8" y2="477.6" stroke="#777" stroke-width="0.4"/>
<text x="497.3" y="490.0" font-family="Liberation Sans, sans-serif" font-size="3.2" fill="#555">2</text>
<line x1="495.6" y1="489.0" x2="496.8" y2="489.0" stroke="#777" stroke-width="0.4"/>
<text x="497.3" y="501.3" font-family="Liberation Sans, sans-serif" font-size="3.2" fill="#555">1</text>
<line x1="495.6" y1="500.3" x2="496.8" y2="500.3" stroke="#777" stroke-width="0.4"/>
<text x="491" y="510.5" font-family="Liberation Sans, sans-serif" font-size="3.4" fill="#444">Radiance</text><text x="491" y="514.5" font-family="Liberation Sans, sans-serif" font-size="3" fill="#444">p/sec/cm²/sr</text>
<clipPath id="eb0"><rect x="21" y="537" width="113.6" height="109.5"/></clipPath>
<g clip-path="url(#eb0)">
<rect x="21" y="537" width="113.6" height="109.5" fill="url(#ebg)"/>
<rect x="45.2" y="545.5" width="54" height="78.5" rx="3" fill="#74747c" stroke="#b0b0b8" stroke-width="1"/>
<circle cx="60.7" cy="559.4" r="10.8" fill="#48484e" stroke="#b4b4bc" stroke-width="1.1"/>
<path d="M52.7,555.4 A9,9 0 0 1 62.7,550.4" fill="none" stroke="#d8d8dc" stroke-width="1" opacity="0.7"/>
<circle cx="60.7" cy="584.3" r="10.8" fill="#48484e" stroke="#b4b4bc" stroke-width="1.1"/>
<path d="M52.7,580.3 A9,9 0 0 1 62.7,575.3" fill="none" stroke="#d8d8dc" stroke-width="1" opacity="0.7"/>
<circle cx="60.7" cy="609" r="10.8" fill="#48484e" stroke="#b4b4bc" stroke-width="1.1"/>
<path d="M52.7,605 A9,9 0 0 1 62.7,600" fill="none" stroke="#d8d8dc" stroke-width="1" opacity="0.7"/>
<circle cx="86" cy="559.4" r="10.8" fill="#48484e" stroke="#b4b4bc" stroke-width="1.1"/>
<path d="M78,555.4 A9,9 0 0 1 88,550.4" fill="none" stroke="#d8d8dc" stroke-width="1" opacity="0.7"/>
<circle cx="86" cy="584.3" r="10.8" fill="#48484e" stroke="#b4b4bc" stroke-width="1.1"/>
<path d="M78,580.3 A9,9 0 0 1 88,575.3" fill="none" stroke="#d8d8dc" stroke-width="1" opacity="0.7"/>
<circle cx="86" cy="609" r="10.8" fill="#48484e" stroke="#b4b4bc" stroke-width="1.1"/>
<path d="M78,605 A9,9 0 0 1 88,600" fill="none" stroke="#d8d8dc" stroke-width="1" opacity="0.7"/>
<g fill="#e8e8ee" opacity="0.8"><circle cx="73.3" cy="571.8" r="1.2"/><circle cx="73.3" cy="596.6" r="1.2"/><circle cx="50" cy="548" r="0.9"/><circle cx="95" cy="548" r="0.9"/><circle cx="73.3" cy="548" r="0.9"/></g>
</g>
<clipPath id="eb1"><rect x="137.2" y="537" width="113.30000000000001" height="109.5"/></clipPath>
<g clip-path="url(#eb1)">
<rect x="137.2" y="537" width="113.30000000000001" height="109.5" fill="url(#ebg)"/>
<rect x="156.2" y="533" width="75.30000000000001" height="118" rx="4" fill="#505056" stroke="#9a9aa0" stroke-width="1.3"/>
<rect x="158.7" y="533" width="70.30000000000001" height="118" rx="3" fill="none" stroke="#6a6a70" stroke-width="1"/>
<circle cx="176.5" cy="556" r="19" fill="#303036" stroke="#909098" stroke-width="1.1"/>
<path d="M161.3,547.5 A18,18 0 0 1 180.3,538.0" fill="none" stroke="#d0d0d6" stroke-width="1.1" opacity="0.6"/>
<circle cx="176.5" cy="595" r="19" fill="#303036" stroke="#909098" stroke-width="1.1"/>
<path d="M161.3,586.5 A18,18 0 0 1 180.3,577.0" fill="none" stroke="#d0d0d6" stroke-width="1.1" opacity="0.6"/>
<circle cx="176.5" cy="632" r="19" fill="#303036" stroke="#909098" stroke-width="1.1"/>
<path d="M161.3,623.5 A18,18 0 0 1 180.3,614.0" fill="none" stroke="#d0d0d6" stroke-width="1.1" opacity="0.6"/>
<circle cx="211.2" cy="556" r="19" fill="#303036" stroke="#909098" stroke-width="1.1"/>
<path d="M196.0,547.5 A18,18 0 0 1 215.0,538.0" fill="none" stroke="#d0d0d6" stroke-width="1.1" opacity="0.6"/>
<circle cx="211.2" cy="595" r="19" fill="#303036" stroke="#909098" stroke-width="1.1"/>
<path d="M196.0,586.5 A18,18 0 0 1 215.0,577.0" fill="none" stroke="#d0d0d6" stroke-width="1.1" opacity="0.6"/>
<circle cx="211.2" cy="632" r="19" fill="#303036" stroke="#909098" stroke-width="1.1"/>
<path d="M196.0,623.5 A18,18 0 0 1 215.0,614.0" fill="none" stroke="#d0d0d6" stroke-width="1.1" opacity="0.6"/>
<path d="M188.8,575.5 L198.8,575.5 M193.8,572.5 L193.8,578.5" stroke="#e4e4ea" stroke-width="1.3" opacity="0.8"/>
<path d="M188.8,613.5 L198.8,613.5 M193.8,610.5 L193.8,616.5" stroke="#e4e4ea" stroke-width="1.3" opacity="0.8"/>
<path d="M201.2,546 C211.2,540 223.2,550 217.2,562 C211.2,568 205.2,560 201.2,546 Z" fill="#8a8a90" filter="url(#rough2)"/>
<ellipse cx="213.2" cy="636" rx="14" ry="9" fill="#76767c" filter="url(#rough2)"/>
</g>
<clipPath id="eb2"><rect x="252.9" y="537" width="114.1" height="109.5"/></clipPath>
<g clip-path="url(#eb2)">
<rect x="252.9" y="537" width="114.1" height="109.5" fill="url(#ebg)"/>
<rect x="271.9" y="533" width="76.10000000000002" height="118" rx="4" fill="#505056" stroke="#9a9aa0" stroke-width="1.3"/>
<rect x="274.4" y="533" width="71.10000000000002" height="118" rx="3" fill="none" stroke="#6a6a70" stroke-width="1"/>
<circle cx="292.4" cy="554" r="17.5" fill="#303036" stroke="#909098" stroke-width="1.1"/>
<path d="M278.4,546.1 A16.5,16.5 0 0 1 295.9,537.4" fill="none" stroke="#d0d0d6" stroke-width="1.1" opacity="0.6"/>
<circle cx="292.4" cy="592" r="17.5" fill="#303036" stroke="#909098" stroke-width="1.1"/>
<path d="M278.4,584.1 A16.5,16.5 0 0 1 295.9,575.4" fill="none" stroke="#d0d0d6" stroke-width="1.1" opacity="0.6"/>
<circle cx="292.4" cy="629" r="17.5" fill="#303036" stroke="#909098" stroke-width="1.1"/>
<path d="M278.4,621.1 A16.5,16.5 0 0 1 295.9,612.4" fill="none" stroke="#d0d0d6" stroke-width="1.1" opacity="0.6"/>
<circle cx="327.5" cy="554" r="17.5" fill="#303036" stroke="#909098" stroke-width="1.1"/>
<path d="M313.5,546.1 A16.5,16.5 0 0 1 331.0,537.4" fill="none" stroke="#d0d0d6" stroke-width="1.1" opacity="0.6"/>
<circle cx="327.5" cy="592" r="17.5" fill="#303036" stroke="#909098" stroke-width="1.1"/>
<path d="M313.5,584.1 A16.5,16.5 0 0 1 331.0,575.4" fill="none" stroke="#d0d0d6" stroke-width="1.1" opacity="0.6"/>
<circle cx="327.5" cy="629" r="17.5" fill="#303036" stroke="#909098" stroke-width="1.1"/>
<path d="M313.5,621.1 A16.5,16.5 0 0 1 331.0,612.4" fill="none" stroke="#d0d0d6" stroke-width="1.1" opacity="0.6"/>
<path d="M304.9,573.0 L314.9,573.0 M309.9,570.0 L309.9,576.0" stroke="#e4e4ea" stroke-width="1.3" opacity="0.8"/>
<path d="M304.9,610.5 L314.9,610.5 M309.9,607.5 L309.9,613.5" stroke="#e4e4ea" stroke-width="1.3" opacity="0.8"/>
</g>
<clipPath id="eb3"><rect x="369.4" y="537" width="113.70000000000005" height="109.5"/></clipPath>
<g clip-path="url(#eb3)">
<rect x="369.4" y="537" width="113.70000000000005" height="109.5" fill="url(#ebg)"/>
<rect x="388.4" y="533" width="75.70000000000005" height="118" rx="4" fill="#505056" stroke="#9a9aa0" stroke-width="1.3"/>
<rect x="390.9" y="533" width="70.70000000000005" height="118" rx="3" fill="none" stroke="#6a6a70" stroke-width="1"/>
<circle cx="408.8" cy="554" r="17.5" fill="#303036" stroke="#909098" stroke-width="1.1"/>
<path d="M394.8,546.1 A16.5,16.5 0 0 1 412.3,537.4" fill="none" stroke="#d0d0d6" stroke-width="1.1" opacity="0.6"/>
<circle cx="408.8" cy="592" r="17.5" fill="#303036" stroke="#909098" stroke-width="1.1"/>
<path d="M394.8,584.1 A16.5,16.5 0 0 1 412.3,575.4" fill="none" stroke="#d0d0d6" stroke-width="1.1" opacity="0.6"/>
<circle cx="408.8" cy="629" r="17.5" fill="#303036" stroke="#909098" stroke-width="1.1"/>
<path d="M394.8,621.1 A16.5,16.5 0 0 1 412.3,612.4" fill="none" stroke="#d0d0d6" stroke-width="1.1" opacity="0.6"/>
<circle cx="443.7" cy="554" r="17.5" fill="#303036" stroke="#909098" stroke-width="1.1"/>
<path d="M429.7,546.1 A16.5,16.5 0 0 1 447.2,537.4" fill="none" stroke="#d0d0d6" stroke-width="1.1" opacity="0.6"/>
<circle cx="443.7" cy="592" r="17.5" fill="#303036" stroke="#909098" stroke-width="1.1"/>
<path d="M429.7,584.1 A16.5,16.5 0 0 1 447.2,575.4" fill="none" stroke="#d0d0d6" stroke-width="1.1" opacity="0.6"/>
<circle cx="443.7" cy="629" r="17.5" fill="#303036" stroke="#909098" stroke-width="1.1"/>
<path d="M429.7,621.1 A16.5,16.5 0 0 1 447.2,612.4" fill="none" stroke="#d0d0d6" stroke-width="1.1" opacity="0.6"/>
<path d="M421.2,573.0 L431.2,573.0 M426.2,570.0 L426.2,576.0" stroke="#e4e4ea" stroke-width="1.3" opacity="0.8"/>
<path d="M421.2,610.5 L431.2,610.5 M426.2,607.5 L426.2,613.5" stroke="#e4e4ea" stroke-width="1.3" opacity="0.8"/>
<path d="M433.7,548 C439.7,540 451.7,544 447.7,556 C443.7,562 435.7,558 433.7,548 Z" fill="#8a8a90" filter="url(#rough2)"/>
</g>
<g filter="url(#rough1)"><path d="M163,566 C165,560 176,559 181,563 C186,568 182,576 176,577 C169,578 162,573 163,566 Z" fill="#3040c0" opacity="0.6"/><ellipse cx="173" cy="569.8" rx="4.2" ry="4" fill="#40b8e0"/></g>
<g filter="url(#blur05)"><circle cx="173" cy="569.8" r="3.4" fill="#e8d040"/><circle cx="173" cy="569.8" r="1.8" fill="#d02020"/></g>
<g filter="url(#rough1)"><path d="M158,631 C160,624 172,623 178,627 C185,632 182,642 174,644 C166,645 157,639 158,631 Z" fill="#3040c0" opacity="0.6"/><ellipse cx="170" cy="635.5" rx="5" ry="4.2" fill="#40b8e0"/></g>
<g filter="url(#blur05)"><circle cx="170" cy="635.5" r="3.4" fill="#80d060"/><circle cx="170" cy="635.5" r="1.6" fill="#e8e040"/></g>
<path d="M410,561 C414,556 421,557 422,563 C424,569 418,573 412,572 C407,570 406,564 410,561 Z" fill="#3050c0"/><path d="M411,561.5 C414,558 420,559 420.5,563 C422,568 417,571 412.5,570 C409,569 408,565 411,561.5 Z" fill="#68d050"/>
<path d="M66,606h1v1h-1zM67,602h1v1h-1zM62,612h1v1h-1zM55,615h1v1h-1zM55,606h1v1h-1zM66,610h1v1h-1zM55,601h1v2h-1zM62,608h2v1h-2zM53,615h2v2h-2zM56,606h1v1h-1zM62,615h1v1h-1zM57,611h1v1h-1zM58,610h1v1h-1zM56,609h2v1h-2zM66,607h1v1h-1zM61,601h1v1h-1zM68,612h1v2h-1zM60,612h1v1h-1zM57,602h1v1h-1zM69,614h1v1h-1zM53,609h1v2h-1zM52,602h1v1h-1zM54,615h1v1h-1zM56,615h1v1h-1zM55,601h1v2h-1zM61,607h1v2h-1zM65,608h1v1h-1zM63,616h1v1h-1zM59,610h1v1h-1zM68,600h1v1h-1zM53,613h1v1h-1zM64,602h1v2h-1zM53,608h1v2h-1zM59,608h1v1h-1zM65,614h1v2h-1z" fill="#4050d0" opacity="0.9" filter="url(#blur04)"/>
<path d="M416,587h2v2h-2zM417,600h1v2h-1zM403,598h2v1h-2zM418,594h1v1h-1zM417,590h1v1h-1zM408,602h1v1h-1zM407,589h1v1h-1zM403,591h1v2h-1zM417,590h1v2h-1zM410,600h1v2h-1zM402,602h1v1h-1zM409,592h1v1h-1zM408,589h2v1h-2zM400,601h1v1h-1zM411,587h1v1h-1zM416,598h1v1h-1zM403,585h1v1h-1zM402,589h2v1h-2zM410,604h1v1h-1zM403,589h1v1h-1zM405,595h1v1h-1zM412,591h1v1h-1zM418,602h2v1h-2z" fill="#4050d0" opacity="0.8" filter="url(#blur04)"/>
<path d="M289,547h1v1h-1zM291,554h1v1h-1zM294,544h2v1h-2zM303,543h1v2h-1zM294,556h1v1h-1zM291,558h1v2h-1zM308,547h2v1h-2zM304,558h1v1h-1zM301,545h1v1h-1zM293,545h1v1h-1zM300,554h1v1h-1zM289,544h2v1h-2zM294,555h1v1h-1zM305,553h1v1h-1zM300,556h1v1h-1zM304,542h1v1h-1zM303,554h1v2h-1zM296,545h1v1h-1zM306,551h1v2h-1zM307,543h1v1h-1zM305,543h1v1h-1z" fill="#5060d0" opacity="0.8" filter="url(#blur04)"/>
<text x="26" y="565.6" font-family="Liberation Sans, sans-serif" font-size="9.6" font-weight="bold" fill="#eeee58" text-anchor="start">Tumor</text>
<text x="103" y="565.6" font-family="Liberation Sans, sans-serif" font-size="9.6" font-weight="bold" fill="#eeee58" text-anchor="start">BM</text>
<text x="26" y="589.1" font-family="Liberation Sans, sans-serif" font-size="9.6" font-weight="bold" fill="#eeee58" text-anchor="start">Spleen</text>
<text x="103" y="589.1" font-family="Liberation Sans, sans-serif" font-size="9.6" font-weight="bold" fill="#eeee58" text-anchor="start">Kidney</text>
<text x="26" y="614" font-family="Liberation Sans, sans-serif" font-size="9.6" font-weight="bold" fill="#eeee58" text-anchor="start">Liver</text>
<text x="139.6" y="548.6" font-family="Liberation Sans, sans-serif" font-size="9.6" font-weight="bold" fill="#eeee58" text-anchor="start">Tumor</text>
<text x="139.6" y="560.9" font-family="Liberation Sans, sans-serif" font-size="9.6" font-weight="bold" fill="#eeee58" text-anchor="start">(Stomach)</text>
<text x="235.4" y="572.4" font-family="Liberation Sans, sans-serif" font-size="9.6" font-weight="bold" fill="#eeee58" text-anchor="start">BM</text>
<text x="139.6" y="597.1" font-family="Liberation Sans, sans-serif" font-size="9.6" font-weight="bold" fill="#eeee58" text-anchor="start">Spleen</text>
<text x="218" y="605.9" font-family="Liberation Sans, sans-serif" font-size="9.6" font-weight="bold" fill="#eeee58" text-anchor="start">Kidney</text>
<text x="139.6" y="634.1" font-family="Liberation Sans, sans-serif" font-size="9.6" font-weight="bold" fill="#eeee58" text-anchor="start">Liver</text>
<text x="255.8" y="560.2" font-family="Liberation Sans, sans-serif" font-size="9.6" font-weight="bold" fill="#eeee58" text-anchor="start">Artifact</text>
<text x="351.5" y="572.4" font-family="Liberation Sans, sans-serif" font-size="9.6" font-weight="bold" fill="#eeee58" text-anchor="start">BM</text>
<text x="255.8" y="597.1" font-family="Liberation Sans, sans-serif" font-size="9.6" font-weight="bold" fill="#eeee58" text-anchor="start">Spleen</text>
<text x="335" y="605.9" font-family="Liberation Sans, sans-serif" font-size="9.6" font-weight="bold" fill="#eeee58" text-anchor="start">Kidney</text>
<text x="255.8" y="633.4" font-family="Liberation Sans, sans-serif" font-size="9.6" font-weight="bold" fill="#eeee58" text-anchor="start">Liver</text>
<text x="373" y="548.6" font-family="Liberation Sans, sans-serif" font-size="9.6" font-weight="bold" fill="#eeee58" text-anchor="start">Tumor</text>
<text x="373" y="560.9" font-family="Liberation Sans, sans-serif" font-size="9.6" font-weight="bold" fill="#eeee58" text-anchor="start">(Lung)</text>
<text x="467.5" y="572.2" font-family="Liberation Sans, sans-serif" font-size="9.6" font-weight="bold" fill="#eeee58" text-anchor="start">BM</text>
<text x="373" y="597.1" font-family="Liberation Sans, sans-serif" font-size="9.6" font-weight="bold" fill="#eeee58" text-anchor="start">Spleen</text>
<text x="451" y="605.9" font-family="Liberation Sans, sans-serif" font-size="9.6" font-weight="bold" fill="#eeee58" text-anchor="start">Kidney</text>
<text x="373" y="633.4" font-family="Liberation Sans, sans-serif" font-size="9.6" font-weight="bold" fill="#eeee58" text-anchor="start">Liver</text>
<rect x="489.9" y="538.3" width="3.9" height="83.4" fill="url(#cbar)"/>
<rect x="489.2" y="633.7" width="23.8" height="12.8" fill="#fff" stroke="#666" stroke-width="0.6"/><path d="M491,637h12M491,640.5h14M491,644h14" stroke="#aaa" stroke-width="0.8"/>
<text x="495.4" y="545.3" font-family="Liberation Sans, sans-serif" font-size="3.2" fill="#555">7</text>
<line x1="493.7" y1="544.3" x2="494.9" y2="544.3" stroke="#777" stroke-width="0.4"/>
<text x="495.4" y="557.2" font-family="Liberation Sans, sans-serif" font-size="3.2" fill="#555">6</text>
<line x1="493.7" y1="556.2" x2="494.9" y2="556.2" stroke="#777" stroke-width="0.4"/>
<text x="495.4" y="569.1" font-family="Liberation Sans, sans-serif" font-size="3.2" fill="#555">5</text>
<line x1="493.7" y1="568.1" x2="494.9" y2="568.1" stroke="#777" stroke-width="0.4"/>
<text x="495.4" y="581.0" font-family="Liberation Sans, sans-serif" font-size="3.2" fill="#555">4</text>
<line x1="493.7" y1="580.0" x2="494.9" y2="580.0" stroke="#777" stroke-width="0.4"/>
<text x="495.4" y="592.9" font-family="Liberation Sans, sans-serif" font-size="3.2" fill="#555">3</text>
<line x1="493.7" y1="591.9" x2="494.9" y2="591.9" stroke="#777" stroke-width="0.4"/>
<text x="495.4" y="604.8" font-family="Liberation Sans, sans-serif" font-size="3.2" fill="#555">2</text>
<line x1="493.7" y1="603.8" x2="494.9" y2="603.8" stroke="#777" stroke-width="0.4"/>
<text x="495.4" y="616.7" font-family="Liberation Sans, sans-serif" font-size="3.2" fill="#555">1</text>
<line x1="493.7" y1="615.7" x2="494.9" y2="615.7" stroke="#777" stroke-width="0.4"/>
<text x="490" y="626" font-family="Liberation Sans, sans-serif" font-size="3.4" fill="#444">Radiance</text><text x="490" y="630" font-family="Liberation Sans, sans-serif" font-size="3" fill="#444">p/sec/cm²/sr</text>
<text x="1" y="13.8" font-family="Liberation Sans, sans-serif" font-size="17" font-weight="bold">A</text>
<line x1="80.4" y1="27.0" x2="267.5" y2="27.0" stroke="#8e8e8e" stroke-width="1"/>
<line x1="80.4" y1="85.9" x2="267.5" y2="85.9" stroke="#8e8e8e" stroke-width="1"/>
<line x1="80.4" y1="144.8" x2="267.5" y2="144.8" stroke="#8e8e8e" stroke-width="1"/>
<line x1="80.4" y1="27" x2="80.4" y2="204" stroke="#8e8e8e" stroke-width="1"/>
<line x1="80" y1="203.7" x2="267.5" y2="203.7" stroke="#8e8e8e" stroke-width="1"/>
<line x1="77" y1="203.7" x2="80.4" y2="203.7" stroke="#8e8e8e"/>
<text x="70.5" y="207.7" font-family="Liberation Sans, sans-serif" font-size="11.7" text-anchor="end" fill="#222">1.0E+05</text>
<line x1="77" y1="144.8" x2="80.4" y2="144.8" stroke="#8e8e8e"/>
<text x="70.5" y="148.8" font-family="Liberation Sans, sans-serif" font-size="11.7" text-anchor="end" fill="#222">1.0E+06</text>
<line x1="77" y1="85.9" x2="80.4" y2="85.9" stroke="#8e8e8e"/>
<text x="70.5" y="89.9" font-family="Liberation Sans, sans-serif" font-size="11.7" text-anchor="end" fill="#222">1.0E+07</text>
<line x1="77" y1="27.0" x2="80.4" y2="27.0" stroke="#8e8e8e"/>
<text x="70.5" y="31.0" font-family="Liberation Sans, sans-serif" font-size="11.7" text-anchor="end" fill="#222">1.0E+08</text>
<line x1="80.4" y1="203.7" x2="80.4" y2="207.5" stroke="#8e8e8e"/>
<text x="80.4" y="223" font-family="Liberation Sans, sans-serif" font-size="11.7" text-anchor="middle" fill="#222">6</text>
<line x1="106.0" y1="203.7" x2="106.0" y2="207.5" stroke="#8e8e8e"/>
<text x="106.0" y="223" font-family="Liberation Sans, sans-serif" font-size="11.7" text-anchor="middle" fill="#222">13</text>
<line x1="131.6" y1="203.7" x2="131.6" y2="207.5" stroke="#8e8e8e"/>
<text x="131.6" y="223" font-family="Liberation Sans, sans-serif" font-size="11.7" text-anchor="middle" fill="#222">20</text>
<line x1="157.2" y1="203.7" x2="157.2" y2="207.5" stroke="#8e8e8e"/>
<text x="157.2" y="223" font-family="Liberation Sans, sans-serif" font-size="11.7" text-anchor="middle" fill="#222">27</text>
<line x1="182.8" y1="203.7" x2="182.8" y2="207.5" stroke="#8e8e8e"/>
<text x="182.8" y="223" font-family="Liberation Sans, sans-serif" font-size="11.7" text-anchor="middle" fill="#222">34</text>
<line x1="208.4" y1="203.7" x2="208.4" y2="207.5" stroke="#8e8e8e"/>
<text x="208.4" y="223" font-family="Liberation Sans, sans-serif" font-size="11.7" text-anchor="middle" fill="#222">41</text>
<line x1="234.0" y1="203.7" x2="234.0" y2="207.5" stroke="#8e8e8e"/>
<text x="234.0" y="223" font-family="Liberation Sans, sans-serif" font-size="11.7" text-anchor="middle" fill="#222">48</text>
<line x1="259.6" y1="203.7" x2="259.6" y2="207.5" stroke="#8e8e8e"/>
<text x="259.6" y="223" font-family="Liberation Sans, sans-serif" font-size="11.7" text-anchor="middle" fill="#222">55</text>
<text x="106.1" y="238.2" font-family="Liberation Sans, sans-serif" font-size="11.7" font-weight="bold" fill="#111">Days s/p tumor injection</text>
<text transform="translate(22.3,114.5) rotate(-90)" font-family="Liberation Sans, sans-serif" font-size="11.7" font-weight="bold" text-anchor="middle" fill="#111">BLI (Photons/second)</text>
<line x1="81.2" y1="180.5" x2="81.2" y2="189" stroke="#d0283a" stroke-width="2"/>
<line x1="94.7" y1="180.5" x2="94.7" y2="189" stroke="#d0283a" stroke-width="2"/>
<line x1="106.2" y1="180.5" x2="106.2" y2="189" stroke="#d0283a" stroke-width="2"/>
<line x1="120" y1="180.5" x2="120" y2="189" stroke="#d0283a" stroke-width="2"/>
<line x1="132.5" y1="180.5" x2="132.5" y2="189" stroke="#d0283a" stroke-width="2"/>
<line x1="146" y1="180.5" x2="146" y2="189" stroke="#d0283a" stroke-width="2"/>
<line x1="158" y1="180.5" x2="158" y2="189" stroke="#d0283a" stroke-width="2"/>
<line x1="169" y1="180.5" x2="169" y2="189" stroke="#d0283a" stroke-width="2"/>
<rect x="80.2" y="191.3" width="90" height="10.2" fill="#2e3d94"/>
<text x="172" y="189.2" font-family="Liberation Sans, sans-serif" font-size="11.7" fill="#222">ESKM biweekly</text>
<text x="172" y="200.5" font-family="Liberation Sans, sans-serif" font-size="11.7" fill="#222">Dasatinib daily</text>
<line x1="106.2" y1="114.2" x2="106.2" y2="127" stroke="#6a6a6a" stroke-width="1.1"/>
<line x1="104.0" y1="114.2" x2="108.4" y2="114.2" stroke="#6a6a6a" stroke-width="1.1"/>
<line x1="104.0" y1="127" x2="108.4" y2="127" stroke="#6a6a6a" stroke-width="1.1"/>
<line x1="131.8" y1="88" x2="131.8" y2="119.5" stroke="#6a6a6a" stroke-width="1.1"/>
<line x1="129.60000000000002" y1="88" x2="134.0" y2="88" stroke="#6a6a6a" stroke-width="1.1"/>
<line x1="129.60000000000002" y1="119.5" x2="134.0" y2="119.5" stroke="#6a6a6a" stroke-width="1.1"/>
<line x1="157.7" y1="59.5" x2="157.7" y2="89.5" stroke="#6a6a6a" stroke-width="1.1"/>
<line x1="155.5" y1="59.5" x2="159.89999999999998" y2="59.5" stroke="#6a6a6a" stroke-width="1.1"/>
<line x1="155.5" y1="89.5" x2="159.89999999999998" y2="89.5" stroke="#6a6a6a" stroke-width="1.1"/>
<line x1="168.5" y1="40.4" x2="168.5" y2="71.5" stroke="#6a6a6a" stroke-width="1.1"/>
<line x1="166.3" y1="40.4" x2="170.7" y2="40.4" stroke="#6a6a6a" stroke-width="1.1"/>
<line x1="166.3" y1="71.5" x2="170.7" y2="71.5" stroke="#6a6a6a" stroke-width="1.1"/>
<line x1="80.4" y1="139.6" x2="80.4" y2="152" stroke="#6a6a6a" stroke-width="1.1"/>
<line x1="78.2" y1="139.6" x2="82.60000000000001" y2="139.6" stroke="#6a6a6a" stroke-width="1.1"/>
<line x1="78.2" y1="152" x2="82.60000000000001" y2="152" stroke="#6a6a6a" stroke-width="1.1"/>
<line x1="106.2" y1="136" x2="106.2" y2="144" stroke="#6a6a6a" stroke-width="1.1"/>
<line x1="104.0" y1="136" x2="108.4" y2="136" stroke="#6a6a6a" stroke-width="1.1"/>
<line x1="104.0" y1="144" x2="108.4" y2="144" stroke="#6a6a6a" stroke-width="1.1"/>
<line x1="131.8" y1="127" x2="131.8" y2="134" stroke="#6a6a6a" stroke-width="1.1"/>
<line x1="129.60000000000002" y1="127" x2="134.0" y2="127" stroke="#6a6a6a" stroke-width="1.1"/>
<line x1="129.60000000000002" y1="134" x2="134.0" y2="134" stroke="#6a6a6a" stroke-width="1.1"/>
<line x1="157.7" y1="127" x2="157.7" y2="137" stroke="#6a6a6a" stroke-width="1.1"/>
<line x1="155.5" y1="127" x2="159.89999999999998" y2="127" stroke="#6a6a6a" stroke-width="1.1"/>
<line x1="155.5" y1="137" x2="159.89999999999998" y2="137" stroke="#6a6a6a" stroke-width="1.1"/>
<line x1="168.5" y1="125.8" x2="168.5" y2="135.7" stroke="#6a6a6a" stroke-width="1.1"/>
<line x1="166.3" y1="125.8" x2="170.7" y2="125.8" stroke="#6a6a6a" stroke-width="1.1"/>
<line x1="166.3" y1="135.7" x2="170.7" y2="135.7" stroke="#6a6a6a" stroke-width="1.1"/>
<line x1="106.2" y1="152" x2="106.2" y2="160" stroke="#6a6a6a" stroke-width="1.1"/>
<line x1="104.0" y1="152" x2="108.4" y2="152" stroke="#6a6a6a" stroke-width="1.1"/>
<line x1="104.0" y1="160" x2="108.4" y2="160" stroke="#6a6a6a" stroke-width="1.1"/>
<line x1="157.7" y1="156" x2="157.7" y2="164" stroke="#6a6a6a" stroke-width="1.1"/>
<line x1="155.5" y1="156" x2="159.89999999999998" y2="156" stroke="#6a6a6a" stroke-width="1.1"/>
<line x1="155.5" y1="164" x2="159.89999999999998" y2="164" stroke="#6a6a6a" stroke-width="1.1"/>
<line x1="212.6" y1="156.5" x2="212.6" y2="164" stroke="#6a6a6a" stroke-width="1.1"/>
<line x1="210.4" y1="156.5" x2="214.79999999999998" y2="156.5" stroke="#6a6a6a" stroke-width="1.1"/>
<line x1="210.4" y1="164" x2="214.79999999999998" y2="164" stroke="#6a6a6a" stroke-width="1.1"/>
<line x1="230.4" y1="145.7" x2="230.4" y2="157" stroke="#6a6a6a" stroke-width="1.1"/>
<line x1="228.20000000000002" y1="145.7" x2="232.6" y2="145.7" stroke="#6a6a6a" stroke-width="1.1"/>
<line x1="228.20000000000002" y1="157" x2="232.6" y2="157" stroke="#6a6a6a" stroke-width="1.1"/>
<line x1="266.9" y1="114.3" x2="266.9" y2="144.3" stroke="#6a6a6a" stroke-width="1.1"/>
<line x1="264.7" y1="114.3" x2="269.09999999999997" y2="114.3" stroke="#6a6a6a" stroke-width="1.1"/>
<line x1="264.7" y1="144.3" x2="269.09999999999997" y2="144.3" stroke="#6a6a6a" stroke-width="1.1"/>
<polyline points="80.4,146 106.2,122.3 131.8,97 157.7,78 168.5,59.5" fill="none" stroke="#4e2030" stroke-width="1.8"/>
<path d="M77.80000000000001,148 L80.4,143.4 L83.0,148 Z" fill="#4e2030"/>
<path d="M103.60000000000001,124.3 L106.2,119.7 L108.8,124.3 Z" fill="#4e2030"/>
<path d="M129.20000000000002,99 L131.8,94.4 L134.4,99 Z" fill="#4e2030"/>
<path d="M155.1,80 L157.7,75.4 L160.29999999999998,80 Z" fill="#4e2030"/>
<path d="M165.9,61.5 L168.5,56.9 L171.1,61.5 Z" fill="#4e2030"/>
<polyline points="80.4,146 106.2,140.3 131.8,129.7 157.7,130.4 168.5,128" fill="none" stroke="#4a62aa" stroke-width="1.8"/>
<path d="M78.10000000000001,143.7 L82.7,148.3 M82.7,143.7 L78.10000000000001,148.3 M80.4,143.4 L80.4,148.6" stroke="#4a62aa" stroke-width="1"/>
<path d="M103.9,138.0 L108.5,142.60000000000002 M108.5,138.0 L103.9,142.60000000000002 M106.2,137.70000000000002 L106.2,142.9" stroke="#4a62aa" stroke-width="1"/>
<path d="M129.5,127.39999999999999 L134.10000000000002,132.0 M134.10000000000002,127.39999999999999 L129.5,132.0 M131.8,127.1 L131.8,132.29999999999998" stroke="#4a62aa" stroke-width="1"/>
<path d="M155.39999999999998,128.1 L160.0,132.70000000000002 M160.0,128.1 L155.39999999999998,132.70000000000002 M157.7,127.80000000000001 L157.7,133.0" stroke="#4a62aa" stroke-width="1"/>
<path d="M166.2,125.7 L170.8,130.3 M170.8,125.7 L166.2,130.3 M168.5,125.4 L168.5,130.6" stroke="#4a62aa" stroke-width="1"/>
<polyline points="80.4,153.5 106.2,156.5 131.8,156 157.7,160.4 168.5,158.4 212.6,160.5 230.4,153 266.9,126.5" fill="none" stroke="#cc2b2e" stroke-width="1.6" stroke-dasharray="4,2.5"/>
<circle cx="80.4" cy="153.5" r="2.6" fill="#cc2b2e"/>
<circle cx="106.2" cy="156.5" r="2.6" fill="#cc2b2e"/>
<circle cx="131.8" cy="156" r="2.6" fill="#cc2b2e"/>
<circle cx="157.7" cy="160.4" r="2.6" fill="#cc2b2e"/>
<circle cx="168.5" cy="158.4" r="2.6" fill="#cc2b2e"/>
<circle cx="212.6" cy="160.5" r="2.6" fill="#cc2b2e"/>
<circle cx="230.4" cy="153" r="2.6" fill="#cc2b2e"/>
<circle cx="266.9" cy="126.5" r="2.6" fill="#cc2b2e"/>
<line x1="29.5" y1="258.3" x2="44" y2="258.3" stroke="#4e2030" stroke-width="1.6"/>
<path d="M34.2,260.3 L36.8,255.7 L39.4,260.3 Z" fill="#4e2030"/>
<text x="45.7" y="262.5" font-family="Liberation Sans, sans-serif" font-size="11.7" fill="#222">DMSO Control</text>
<line x1="143.6" y1="258.3" x2="157.5" y2="258.3" stroke="#4a62aa" stroke-width="1.6"/>
<path d="M148.3,256 L152.9,260.6 M152.9,256 L148.3,260.6 M150.6,255.7 L150.6,260.9" stroke="#4a62aa" stroke-width="1"/>
<text x="159" y="262.5" font-family="Liberation Sans, sans-serif" font-size="11.7" fill="#222">Dasatinib Only</text>
<line x1="29.5" y1="275.4" x2="44" y2="275.4" stroke="#cc2b2e" stroke-width="1.6" stroke-dasharray="3,2"/>
<circle cx="36.8" cy="275.4" r="2.5" fill="#cc2b2e"/>
<text x="45.7" y="279.8" font-family="Liberation Sans, sans-serif" font-size="11.7" fill="#222">Dasatinib + ESKM</text>
<text x="295" y="16.2" font-family="Liberation Sans, sans-serif" font-size="17" font-weight="bold">B</text>
<line x1="341" y1="26.2" x2="520" y2="26.2" stroke="#8e8e8e"/>
<line x1="341" y1="124.9" x2="520" y2="124.9" stroke="#8e8e8e"/>
<line x1="341" y1="26" x2="341" y2="224" stroke="#8e8e8e"/>
<line x1="341" y1="223.9" x2="513" y2="223.9" stroke="#8e8e8e"/>
<line x1="431.5" y1="223.9" x2="431.5" y2="228.5" stroke="#8e8e8e"/>
<line x1="513" y1="223.9" x2="513" y2="228.5" stroke="#8e8e8e"/>
<line x1="337.5" y1="223.6" x2="343" y2="223.6" stroke="#8e8e8e" stroke-width="0.9"/>
<line x1="337.5" y1="193.9" x2="343" y2="193.9" stroke="#8e8e8e" stroke-width="0.9"/>
<line x1="337.5" y1="176.5" x2="343" y2="176.5" stroke="#8e8e8e" stroke-width="0.9"/>
<line x1="337.5" y1="164.2" x2="343" y2="164.2" stroke="#8e8e8e" stroke-width="0.9"/>
<line x1="337.5" y1="154.6" x2="343" y2="154.6" stroke="#8e8e8e" stroke-width="0.9"/>
<line x1="337.5" y1="146.8" x2="343" y2="146.8" stroke="#8e8e8e" stroke-width="0.9"/>
<line x1="337.5" y1="140.2" x2="343" y2="140.2" stroke="#8e8e8e" stroke-width="0.9"/>
<line x1="337.5" y1="134.5" x2="343" y2="134.5" stroke="#8e8e8e" stroke-width="0.9"/>
<line x1="337.5" y1="129.4" x2="343" y2="129.4" stroke="#8e8e8e" stroke-width="0.9"/>
<line x1="337.5" y1="124.9" x2="343" y2="124.9" stroke="#8e8e8e" stroke-width="0.9"/>
<line x1="337.5" y1="124.9" x2="343" y2="124.9" stroke="#8e8e8e" stroke-width="0.9"/>
<line x1="337.5" y1="95.2" x2="343" y2="95.2" stroke="#8e8e8e" stroke-width="0.9"/>
<line x1="337.5" y1="77.8" x2="343" y2="77.8" stroke="#8e8e8e" stroke-width="0.9"/>
<line x1="337.5" y1="65.5" x2="343" y2="65.5" stroke="#8e8e8e" stroke-width="0.9"/>
<line x1="337.5" y1="55.9" x2="343" y2="55.9" stroke="#8e8e8e" stroke-width="0.9"/>
<line x1="337.5" y1="48.1" x2="343" y2="48.1" stroke="#8e8e8e" stroke-width="0.9"/>
<line x1="337.5" y1="41.5" x2="343" y2="41.5" stroke="#8e8e8e" stroke-width="0.9"/>
<line x1="337.5" y1="35.8" x2="343" y2="35.8" stroke="#8e8e8e" stroke-width="0.9"/>
<line x1="337.5" y1="30.7" x2="343" y2="30.7" stroke="#8e8e8e" stroke-width="0.9"/>
<line x1="337.5" y1="26.2" x2="343" y2="26.2" stroke="#8e8e8e" stroke-width="0.9"/>
<text x="332" y="30.2" font-family="Liberation Sans, sans-serif" font-size="11.5" text-anchor="end" fill="#222">10000</text>
<text x="332" y="128.9" font-family="Liberation Sans, sans-serif" font-size="11.5" text-anchor="end" fill="#222">1000</text>
<text x="332" y="227.6" font-family="Liberation Sans, sans-serif" font-size="11.5" text-anchor="end" fill="#222">100</text>
<text transform="translate(305,127) rotate(-90)" font-family="Liberation Sans, sans-serif" font-size="11.7" font-weight="bold" text-anchor="middle" fill="#111">Binding by flow cytometry</text>
<rect x="356.4" y="52.2" width="20.400000000000034" height="171.7" fill="#c8d6ee" stroke="#fff" stroke-width="0.8"/>
<rect x="376.8" y="79.9" width="19.80000000000001" height="144.0" fill="#dd8236" stroke="#fff" stroke-width="0.8"/>
<rect x="396.6" y="76.9" width="18.899999999999977" height="147.0" fill="#4054a6" stroke="#fff" stroke-width="0.8"/>
<rect x="444.2" y="168" width="21.19999999999999" height="55.900000000000006" fill="#c8d6ee" stroke="#fff" stroke-width="0.8"/>
<rect x="465.4" y="198.8" width="19.200000000000045" height="25.099999999999994" fill="#dd8236" stroke="#fff" stroke-width="0.8"/>
<rect x="484.6" y="191.1" width="19.399999999999977" height="32.80000000000001" fill="#4054a6" stroke="#fff" stroke-width="0.8"/>
<line x1="366.6" y1="51.8" x2="366.6" y2="52.8" stroke="#3a3030" stroke-width="1.1"/>
<line x1="364.40000000000003" y1="51.8" x2="368.8" y2="51.8" stroke="#3a3030" stroke-width="1.1"/>
<line x1="364.40000000000003" y1="52.8" x2="368.8" y2="52.8" stroke="#3a3030" stroke-width="1.1"/>
<line x1="386.4" y1="74.8" x2="386.4" y2="88.7" stroke="#3a3030" stroke-width="1.1"/>
<line x1="384.2" y1="74.8" x2="388.59999999999997" y2="74.8" stroke="#3a3030" stroke-width="1.1"/>
<line x1="384.2" y1="88.7" x2="388.59999999999997" y2="88.7" stroke="#3a3030" stroke-width="1.1"/>
<line x1="405.8" y1="69.3" x2="405.8" y2="88" stroke="#3a3030" stroke-width="1.1"/>
<line x1="403.6" y1="69.3" x2="408.0" y2="69.3" stroke="#3a3030" stroke-width="1.1"/>
<line x1="403.6" y1="88" x2="408.0" y2="88" stroke="#3a3030" stroke-width="1.1"/>
<line x1="454.8" y1="167.3" x2="454.8" y2="168.3" stroke="#3a3030" stroke-width="1.1"/>
<line x1="452.6" y1="167.3" x2="457.0" y2="167.3" stroke="#3a3030" stroke-width="1.1"/>
<line x1="452.6" y1="168.3" x2="457.0" y2="168.3" stroke="#3a3030" stroke-width="1.1"/>
<line x1="475" y1="193.3" x2="475" y2="204" stroke="#3a3030" stroke-width="1.1"/>
<line x1="472.8" y1="193.3" x2="477.2" y2="193.3" stroke="#3a3030" stroke-width="1.1"/>
<line x1="472.8" y1="204" x2="477.2" y2="204" stroke="#3a3030" stroke-width="1.1"/>
<line x1="494.3" y1="176.5" x2="494.3" y2="205.3" stroke="#3a3030" stroke-width="1.1"/>
<line x1="492.1" y1="176.5" x2="496.5" y2="176.5" stroke="#3a3030" stroke-width="1.1"/>
<line x1="492.1" y1="205.3" x2="496.5" y2="205.3" stroke="#3a3030" stroke-width="1.1"/>
<text x="356.3" y="242.3" font-family="Liberation Sans, sans-serif" font-size="11.7" fill="#222">BB7 Binding</text>
<text x="442.6" y="242.3" font-family="Liberation Sans, sans-serif" font-size="11.7" fill="#222">ESK Binding</text>
<rect x="315.5" y="256.6" width="5.3" height="5.4" fill="#c8d6ee"/>
<text x="324.4" y="263" font-family="Liberation Sans, sans-serif" font-size="11.5" fill="#222">BV173 in vitro</text>
<rect x="403.6" y="256.6" width="5.4" height="5.4" fill="#dd8236"/>
<text x="413" y="263" font-family="Liberation Sans, sans-serif" font-size="11.5" fill="#222">DMSO Control</text>
<rect x="315.5" y="274.4" width="5.3" height="5.4" fill="#4054a6"/>
<text x="324.4" y="280.6" font-family="Liberation Sans, sans-serif" font-size="11.5" fill="#222">Dasatinib</text>
</svg>
</body></html>
